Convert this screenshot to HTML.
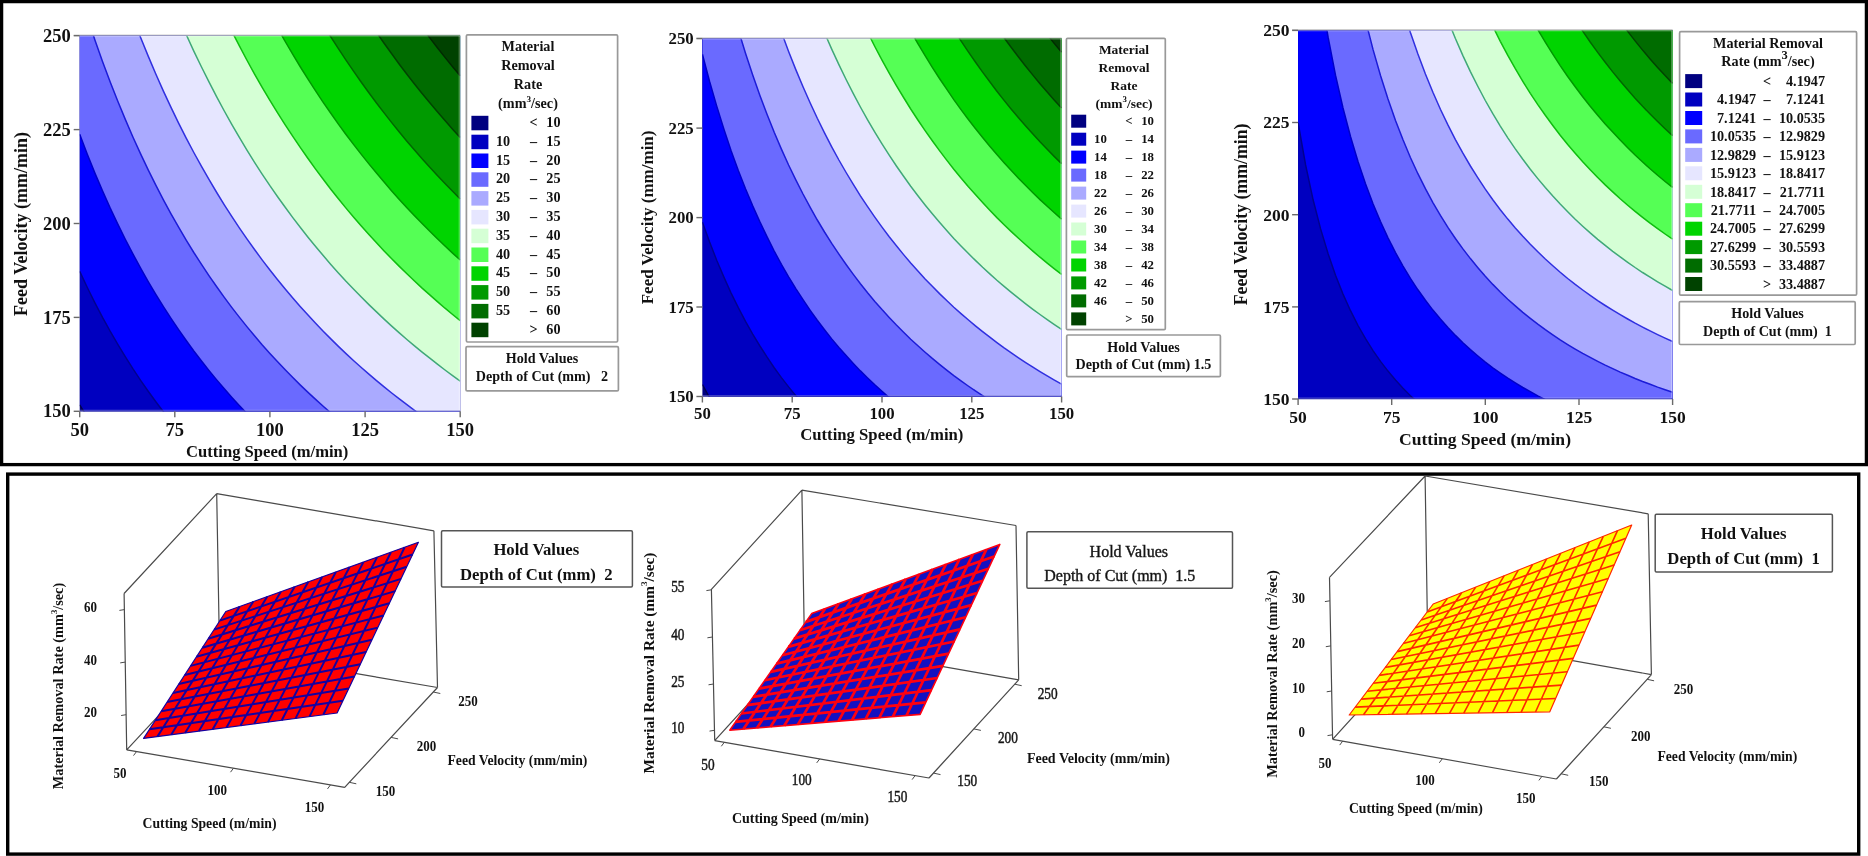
<!DOCTYPE html>
<html lang="en">
<head>
<meta charset="utf-8">
<title>Material Removal Rate - contour and surface plots</title>
<style>
html,body{margin:0;padding:0;background:#fff;}
body{width:1868px;height:856px;overflow:hidden;}
svg{display:block;}
svg text{font-family:"Liberation Serif", "DejaVu Serif", serif;fill:#111;}
</style>
</head>
<body>
<svg width="1868" height="856" viewBox="0 0 1868 856">
<defs>
<filter id="soft" x="0" y="0" width="100%" height="100%" filterUnits="userSpaceOnUse" color-interpolation-filters="sRGB"><feGaussianBlur stdDeviation="0.45"/></filter>
<clipPath id="cp1"><rect x="79.7" y="35.7" width="380.5" height="375.6"/></clipPath>
<clipPath id="cp2"><rect x="702.4" y="38.6" width="359.2" height="357.9"/></clipPath>
<clipPath id="cp3"><rect x="1298.1" y="30.4" width="374.5" height="368.6"/></clipPath>
</defs>
<rect x="1.6" y="1.6" width="1864.8" height="463" fill="#fff" stroke="#000" stroke-width="3.3"/>
<rect x="7.7" y="474.1" width="1851" height="380" fill="#fff" stroke="#000" stroke-width="3.4"/>
<g filter="url(#soft)">
<rect x="79.7" y="35.7" width="380.5" height="375.6" fill="#000080"/>
<g clip-path="url(#cp1)">
<path d="M79.7 404.9 L87.3 417.5 L94.9 429.4 L102.5 440.8 L110.1 451.7 L117.8 462 L125.4 471.9 L133 481.3 L140.6 490.3 L148.2 499 L155.8 507.2 L163.4 515.1 L171 522.7 L178.6 530 L186.2 537 L193.8 543.8 L201.5 550.2 L209.1 556.5 L216.7 562.5 L224.3 568.3 L231.9 573.8 L239.5 579.2 L247.1 584.4 L254.7 589.4 L262.3 594.2 L269.9 598.9 L277.6 603.4 L285.2 607.8 L292.8 612 L300.4 616.1 L308 620 L315.6 623.9 L323.2 627.6 L330.8 631.2 L338.4 634.6 L346 638 L353.7 641.3 L361.3 644.5 L368.9 647.5 L376.5 650.5 L384.1 653.4 L391.7 656.2 L399.3 659 L406.9 661.6 L414.5 664.2 L422.1 666.7 L429.8 669.1 L437.4 671.5 L445 673.8 L452.6 676 L460.2 678.2 L460.2 -364.3 L79.7 -364.3 Z" fill="#0000c0"/>
<path d="M79.7 404.9 L87.3 417.5 L94.9 429.4 L102.5 440.8 L110.1 451.7 L117.8 462 L125.4 471.9 L133 481.3 L140.6 490.3 L148.2 499 L155.8 507.2 L163.4 515.1 L171 522.7 L178.6 530 L186.2 537 L193.8 543.8 L201.5 550.2 L209.1 556.5 L216.7 562.5 L224.3 568.3 L231.9 573.8 L239.5 579.2 L247.1 584.4 L254.7 589.4 L262.3 594.2 L269.9 598.9 L277.6 603.4 L285.2 607.8 L292.8 612 L300.4 616.1 L308 620 L315.6 623.9 L323.2 627.6 L330.8 631.2 L338.4 634.6 L346 638 L353.7 641.3 L361.3 644.5 L368.9 647.5 L376.5 650.5 L384.1 653.4 L391.7 656.2 L399.3 659 L406.9 661.6 L414.5 664.2 L422.1 666.7 L429.8 669.1 L437.4 671.5 L445 673.8 L452.6 676 L460.2 678.2" fill="none" stroke="#000050" stroke-width="1.5"/>
<path d="M79.7 271.4 L87.3 287.5 L94.9 302.8 L102.5 317.4 L110.1 331.2 L117.8 344.3 L125.4 356.9 L133 368.9 L140.6 380.3 L148.2 391.2 L155.8 401.7 L163.4 411.8 L171 421.4 L178.6 430.6 L186.2 439.5 L193.8 448 L201.5 456.2 L209.1 464.1 L216.7 471.7 L224.3 479.1 L231.9 486.1 L239.5 492.9 L247.1 499.5 L254.7 505.9 L262.3 512 L269.9 517.9 L277.6 523.7 L285.2 529.2 L292.8 534.6 L300.4 539.8 L308 544.8 L315.6 549.7 L323.2 554.4 L330.8 559 L338.4 563.4 L346 567.7 L353.7 571.9 L361.3 576 L368.9 579.9 L376.5 583.7 L384.1 587.4 L391.7 591.1 L399.3 594.6 L406.9 598 L414.5 601.3 L422.1 604.5 L429.8 607.6 L437.4 610.7 L445 613.7 L452.6 616.6 L460.2 619.4 L460.2 -364.3 L79.7 -364.3 Z" fill="#0000ff"/>
<path d="M79.7 271.4 L87.3 287.5 L94.9 302.8 L102.5 317.4 L110.1 331.2 L117.8 344.3 L125.4 356.9 L133 368.9 L140.6 380.3 L148.2 391.2 L155.8 401.7 L163.4 411.8 L171 421.4 L178.6 430.6 L186.2 439.5 L193.8 448 L201.5 456.2 L209.1 464.1 L216.7 471.7 L224.3 479.1 L231.9 486.1 L239.5 492.9 L247.1 499.5 L254.7 505.9 L262.3 512 L269.9 517.9 L277.6 523.7 L285.2 529.2 L292.8 534.6 L300.4 539.8 L308 544.8 L315.6 549.7 L323.2 554.4 L330.8 559 L338.4 563.4 L346 567.7 L353.7 571.9 L361.3 576 L368.9 579.9 L376.5 583.7 L384.1 587.4 L391.7 591.1 L399.3 594.6 L406.9 598 L414.5 601.3 L422.1 604.5 L429.8 607.6 L437.4 610.7 L445 613.7 L452.6 616.6 L460.2 619.4" fill="none" stroke="#000090" stroke-width="1.5"/>
<path d="M79.7 134.3 L87.3 154.2 L94.9 173.1 L102.5 190.9 L110.1 207.9 L117.8 224.1 L125.4 239.5 L133 254.2 L140.6 268.2 L148.2 281.6 L155.8 294.4 L163.4 306.7 L171 318.4 L178.6 329.7 L186.2 340.5 L193.8 351 L201.5 361 L209.1 370.6 L216.7 379.9 L224.3 388.8 L231.9 397.4 L239.5 405.7 L247.1 413.7 L254.7 421.4 L262.3 428.9 L269.9 436.1 L277.6 443.1 L285.2 449.9 L292.8 456.4 L300.4 462.8 L308 468.9 L315.6 474.9 L323.2 480.6 L330.8 486.2 L338.4 491.6 L346 496.9 L353.7 502 L361.3 507 L368.9 511.8 L376.5 516.5 L384.1 521 L391.7 525.5 L399.3 529.8 L406.9 533.9 L414.5 538 L422.1 542 L429.8 545.8 L437.4 549.6 L445 553.2 L452.6 556.8 L460.2 560.3 L460.2 -364.3 L79.7 -364.3 Z" fill="#6a6aff"/>
<path d="M79.7 134.3 L87.3 154.2 L94.9 173.1 L102.5 190.9 L110.1 207.9 L117.8 224.1 L125.4 239.5 L133 254.2 L140.6 268.2 L148.2 281.6 L155.8 294.4 L163.4 306.7 L171 318.4 L178.6 329.7 L186.2 340.5 L193.8 351 L201.5 361 L209.1 370.6 L216.7 379.9 L224.3 388.8 L231.9 397.4 L239.5 405.7 L247.1 413.7 L254.7 421.4 L262.3 428.9 L269.9 436.1 L277.6 443.1 L285.2 449.9 L292.8 456.4 L300.4 462.8 L308 468.9 L315.6 474.9 L323.2 480.6 L330.8 486.2 L338.4 491.6 L346 496.9 L353.7 502 L361.3 507 L368.9 511.8 L376.5 516.5 L384.1 521 L391.7 525.5 L399.3 529.8 L406.9 533.9 L414.5 538 L422.1 542 L429.8 545.8 L437.4 549.6 L445 553.2 L452.6 556.8 L460.2 560.3" fill="none" stroke="#0000c8" stroke-width="1.5"/>
<path d="M79.7 -6.9 L87.3 17.1 L94.9 39.9 L102.5 61.4 L110.1 81.8 L117.8 101.2 L125.4 119.6 L133 137.2 L140.6 153.9 L148.2 169.9 L155.8 185.2 L163.4 199.8 L171 213.8 L178.6 227.2 L186.2 240.1 L193.8 252.5 L201.5 264.4 L209.1 275.8 L216.7 286.8 L224.3 297.4 L231.9 307.6 L239.5 317.4 L247.1 326.9 L254.7 336.1 L262.3 345 L269.9 353.5 L277.6 361.8 L285.2 369.8 L292.8 377.6 L300.4 385.1 L308 392.4 L315.6 399.4 L323.2 406.2 L330.8 412.9 L338.4 419.3 L346 425.5 L353.7 431.6 L361.3 437.5 L368.9 443.2 L376.5 448.8 L384.1 454.2 L391.7 459.4 L399.3 464.5 L406.9 469.5 L414.5 474.4 L422.1 479.1 L429.8 483.7 L437.4 488.1 L445 492.5 L452.6 496.7 L460.2 500.9 L460.2 -364.3 L79.7 -364.3 Z" fill="#aaaaff"/>
<path d="M79.7 -6.9 L87.3 17.1 L94.9 39.9 L102.5 61.4 L110.1 81.8 L117.8 101.2 L125.4 119.6 L133 137.2 L140.6 153.9 L148.2 169.9 L155.8 185.2 L163.4 199.8 L171 213.8 L178.6 227.2 L186.2 240.1 L193.8 252.5 L201.5 264.4 L209.1 275.8 L216.7 286.8 L224.3 297.4 L231.9 307.6 L239.5 317.4 L247.1 326.9 L254.7 336.1 L262.3 345 L269.9 353.5 L277.6 361.8 L285.2 369.8 L292.8 377.6 L300.4 385.1 L308 392.4 L315.6 399.4 L323.2 406.2 L330.8 412.9 L338.4 419.3 L346 425.5 L353.7 431.6 L361.3 437.5 L368.9 443.2 L376.5 448.8 L384.1 454.2 L391.7 459.4 L399.3 464.5 L406.9 469.5 L414.5 474.4 L422.1 479.1 L429.8 483.7 L437.4 488.1 L445 492.5 L452.6 496.7 L460.2 500.9" fill="none" stroke="#1c1cd8" stroke-width="1.5"/>
<path d="M79.7 -152.5 L87.3 -123.9 L94.9 -97 L102.5 -71.5 L110.1 -47.4 L117.8 -24.6 L125.4 -2.9 L133 17.7 L140.6 37.4 L148.2 56.1 L155.8 74 L163.4 91.1 L171 107.4 L178.6 123.1 L186.2 138.1 L193.8 152.5 L201.5 166.4 L209.1 179.7 L216.7 192.5 L224.3 204.8 L231.9 216.7 L239.5 228.1 L247.1 239.2 L254.7 249.8 L262.3 260.1 L269.9 270 L277.6 279.7 L285.2 289 L292.8 298 L300.4 306.7 L308 315.1 L315.6 323.3 L323.2 331.2 L330.8 338.9 L338.4 346.4 L346 353.6 L353.7 360.7 L361.3 367.5 L368.9 374.1 L376.5 380.6 L384.1 386.9 L391.7 393 L399.3 398.9 L406.9 404.7 L414.5 410.3 L422.1 415.8 L429.8 421.1 L437.4 426.3 L445 431.4 L452.6 436.3 L460.2 441.1 L460.2 -364.3 L79.7 -364.3 Z" fill="#e6e6ff"/>
<path d="M79.7 -152.5 L87.3 -123.9 L94.9 -97 L102.5 -71.5 L110.1 -47.4 L117.8 -24.6 L125.4 -2.9 L133 17.7 L140.6 37.4 L148.2 56.1 L155.8 74 L163.4 91.1 L171 107.4 L178.6 123.1 L186.2 138.1 L193.8 152.5 L201.5 166.4 L209.1 179.7 L216.7 192.5 L224.3 204.8 L231.9 216.7 L239.5 228.1 L247.1 239.2 L254.7 249.8 L262.3 260.1 L269.9 270 L277.6 279.7 L285.2 289 L292.8 298 L300.4 306.7 L308 315.1 L315.6 323.3 L323.2 331.2 L330.8 338.9 L338.4 346.4 L346 353.6 L353.7 360.7 L361.3 367.5 L368.9 374.1 L376.5 380.6 L384.1 386.9 L391.7 393 L399.3 398.9 L406.9 404.7 L414.5 410.3 L422.1 415.8 L429.8 421.1 L437.4 426.3 L445 431.4 L452.6 436.3 L460.2 441.1" fill="none" stroke="#3030e0" stroke-width="1.5"/>
<path d="M79.7 -303 L87.3 -269.4 L94.9 -237.8 L102.5 -208.1 L110.1 -180 L117.8 -153.5 L125.4 -128.3 L133 -104.4 L140.6 -81.6 L148.2 -60 L155.8 -39.3 L163.4 -19.6 L171 -0.8 L178.6 17.2 L186.2 34.5 L193.8 51.1 L201.5 67 L209.1 82.2 L216.7 96.9 L224.3 111 L231.9 124.6 L239.5 137.7 L247.1 150.4 L254.7 162.6 L262.3 174.3 L269.9 185.7 L277.6 196.7 L285.2 207.3 L292.8 217.6 L300.4 227.5 L308 237.2 L315.6 246.5 L323.2 255.6 L330.8 264.4 L338.4 272.9 L346 281.2 L353.7 289.2 L361.3 297 L368.9 304.6 L376.5 311.9 L384.1 319.1 L391.7 326.1 L399.3 332.9 L406.9 339.5 L414.5 345.9 L422.1 352.1 L429.8 358.2 L437.4 364.2 L445 370 L452.6 375.6 L460.2 381.1 L460.2 -364.3 L79.7 -364.3 Z" fill="#d5ffd5"/>
<path d="M79.7 -303 L87.3 -269.4 L94.9 -237.8 L102.5 -208.1 L110.1 -180 L117.8 -153.5 L125.4 -128.3 L133 -104.4 L140.6 -81.6 L148.2 -60 L155.8 -39.3 L163.4 -19.6 L171 -0.8 L178.6 17.2 L186.2 34.5 L193.8 51.1 L201.5 67 L209.1 82.2 L216.7 96.9 L224.3 111 L231.9 124.6 L239.5 137.7 L247.1 150.4 L254.7 162.6 L262.3 174.3 L269.9 185.7 L277.6 196.7 L285.2 207.3 L292.8 217.6 L300.4 227.5 L308 237.2 L315.6 246.5 L323.2 255.6 L330.8 264.4 L338.4 272.9 L346 281.2 L353.7 289.2 L361.3 297 L368.9 304.6 L376.5 311.9 L384.1 319.1 L391.7 326.1 L399.3 332.9 L406.9 339.5 L414.5 345.9 L422.1 352.1 L429.8 358.2 L437.4 364.2 L445 370 L452.6 375.6 L460.2 381.1" fill="none" stroke="#40a878" stroke-width="1.5"/>
<path d="M79.7 -339.9 L87.3 -339.9 L94.9 -339.9 L102.5 -339.9 L110.1 -316.3 L117.8 -285.7 L125.4 -256.7 L133 -229.3 L140.6 -203.3 L148.2 -178.5 L155.8 -154.9 L163.4 -132.4 L171 -111 L178.6 -90.5 L186.2 -70.8 L193.8 -52 L201.5 -34 L209.1 -16.7 L216.7 -0 L224.3 16 L231.9 31.4 L239.5 46.2 L247.1 60.5 L254.7 74.3 L262.3 87.6 L269.9 100.4 L277.6 112.8 L285.2 124.8 L292.8 136.4 L300.4 147.7 L308 158.5 L315.6 169.1 L323.2 179.3 L330.8 189.2 L338.4 198.8 L346 208.1 L353.7 217.2 L361.3 226 L368.9 234.5 L376.5 242.8 L384.1 250.9 L391.7 258.7 L399.3 266.4 L406.9 273.8 L414.5 281 L422.1 288.1 L429.8 294.9 L437.4 301.6 L445 308.2 L452.6 314.5 L460.2 320.7 L460.2 -364.3 L79.7 -364.3 Z" fill="#55ff55"/>
<path d="M79.7 -339.9 L87.3 -339.9 L94.9 -339.9 L102.5 -339.9 L110.1 -316.3 L117.8 -285.7 L125.4 -256.7 L133 -229.3 L140.6 -203.3 L148.2 -178.5 L155.8 -154.9 L163.4 -132.4 L171 -111 L178.6 -90.5 L186.2 -70.8 L193.8 -52 L201.5 -34 L209.1 -16.7 L216.7 -0 L224.3 16 L231.9 31.4 L239.5 46.2 L247.1 60.5 L254.7 74.3 L262.3 87.6 L269.9 100.4 L277.6 112.8 L285.2 124.8 L292.8 136.4 L300.4 147.7 L308 158.5 L315.6 169.1 L323.2 179.3 L330.8 189.2 L338.4 198.8 L346 208.1 L353.7 217.2 L361.3 226 L368.9 234.5 L376.5 242.8 L384.1 250.9 L391.7 258.7 L399.3 266.4 L406.9 273.8 L414.5 281 L422.1 288.1 L429.8 294.9 L437.4 301.6 L445 308.2 L452.6 314.5 L460.2 320.7" fill="none" stroke="#10bc10" stroke-width="1.5"/>
<path d="M79.7 -339.9 L87.3 -339.9 L94.9 -339.9 L102.5 -339.9 L110.1 -339.9 L117.8 -339.9 L125.4 -339.9 L133 -339.9 L140.6 -327.7 L148.2 -299.6 L155.8 -272.9 L163.4 -247.5 L171 -223.2 L178.6 -200.1 L186.2 -177.9 L193.8 -156.8 L201.5 -136.5 L209.1 -117 L216.7 -98.3 L224.3 -80.4 L231.9 -63.1 L239.5 -46.5 L247.1 -30.5 L254.7 -15 L262.3 -0.2 L269.9 14.2 L277.6 28.1 L285.2 41.5 L292.8 54.4 L300.4 67 L308 79.1 L315.6 90.9 L323.2 102.3 L330.8 113.3 L338.4 124.1 L346 134.5 L353.7 144.6 L361.3 154.4 L368.9 163.9 L376.5 173.1 L384.1 182.1 L391.7 190.9 L399.3 199.4 L406.9 207.7 L414.5 215.8 L422.1 223.6 L429.8 231.3 L437.4 238.7 L445 246 L452.6 253.1 L460.2 260 L460.2 -364.3 L79.7 -364.3 Z" fill="#00d400"/>
<path d="M79.7 -339.9 L87.3 -339.9 L94.9 -339.9 L102.5 -339.9 L110.1 -339.9 L117.8 -339.9 L125.4 -339.9 L133 -339.9 L140.6 -327.7 L148.2 -299.6 L155.8 -272.9 L163.4 -247.5 L171 -223.2 L178.6 -200.1 L186.2 -177.9 L193.8 -156.8 L201.5 -136.5 L209.1 -117 L216.7 -98.3 L224.3 -80.4 L231.9 -63.1 L239.5 -46.5 L247.1 -30.5 L254.7 -15 L262.3 -0.2 L269.9 14.2 L277.6 28.1 L285.2 41.5 L292.8 54.4 L300.4 67 L308 79.1 L315.6 90.9 L323.2 102.3 L330.8 113.3 L338.4 124.1 L346 134.5 L353.7 144.6 L361.3 154.4 L368.9 163.9 L376.5 173.1 L384.1 182.1 L391.7 190.9 L399.3 199.4 L406.9 207.7 L414.5 215.8 L422.1 223.6 L429.8 231.3 L437.4 238.7 L445 246 L452.6 253.1 L460.2 260" fill="none" stroke="#009800" stroke-width="1.5"/>
<path d="M79.7 -339.9 L87.3 -339.9 L94.9 -339.9 L102.5 -339.9 L110.1 -339.9 L117.8 -339.9 L125.4 -339.9 L133 -339.9 L140.6 -339.9 L148.2 -339.9 L155.8 -339.9 L163.4 -339.9 L171 -337.6 L178.6 -311.7 L186.2 -286.9 L193.8 -263.3 L201.5 -240.6 L209.1 -218.9 L216.7 -198.1 L224.3 -178.1 L231.9 -158.9 L239.5 -140.4 L247.1 -122.6 L254.7 -105.5 L262.3 -88.9 L269.9 -73 L277.6 -57.6 L285.2 -42.7 L292.8 -28.4 L300.4 -14.5 L308 -1 L315.6 12 L323.2 24.6 L330.8 36.9 L338.4 48.7 L346 60.2 L353.7 71.4 L361.3 82.2 L368.9 92.8 L376.5 103 L384.1 112.9 L391.7 122.6 L399.3 132 L406.9 141.2 L414.5 150.1 L422.1 158.8 L429.8 167.2 L437.4 175.5 L445 183.5 L452.6 191.3 L460.2 199 L460.2 -364.3 L79.7 -364.3 Z" fill="#009a00"/>
<path d="M79.7 -339.9 L87.3 -339.9 L94.9 -339.9 L102.5 -339.9 L110.1 -339.9 L117.8 -339.9 L125.4 -339.9 L133 -339.9 L140.6 -339.9 L148.2 -339.9 L155.8 -339.9 L163.4 -339.9 L171 -337.6 L178.6 -311.7 L186.2 -286.9 L193.8 -263.3 L201.5 -240.6 L209.1 -218.9 L216.7 -198.1 L224.3 -178.1 L231.9 -158.9 L239.5 -140.4 L247.1 -122.6 L254.7 -105.5 L262.3 -88.9 L269.9 -73 L277.6 -57.6 L285.2 -42.7 L292.8 -28.4 L300.4 -14.5 L308 -1 L315.6 12 L323.2 24.6 L330.8 36.9 L338.4 48.7 L346 60.2 L353.7 71.4 L361.3 82.2 L368.9 92.8 L376.5 103 L384.1 112.9 L391.7 122.6 L399.3 132 L406.9 141.2 L414.5 150.1 L422.1 158.8 L429.8 167.2 L437.4 175.5 L445 183.5 L452.6 191.3 L460.2 199" fill="none" stroke="#006800" stroke-width="1.5"/>
<path d="M79.7 -339.9 L87.3 -339.9 L94.9 -339.9 L102.5 -339.9 L110.1 -339.9 L117.8 -339.9 L125.4 -339.9 L133 -339.9 L140.6 -339.9 L148.2 -339.9 L155.8 -339.9 L163.4 -339.9 L171 -339.9 L178.6 -339.9 L186.2 -339.9 L193.8 -339.9 L201.5 -339.9 L209.1 -322.4 L216.7 -299.4 L224.3 -277.2 L231.9 -256 L239.5 -235.6 L247.1 -215.9 L254.7 -197 L262.3 -178.8 L269.9 -161.2 L277.6 -144.2 L285.2 -127.9 L292.8 -112 L300.4 -96.7 L308 -81.9 L315.6 -67.6 L323.2 -53.8 L330.8 -40.3 L338.4 -27.3 L346 -14.6 L353.7 -2.4 L361.3 9.5 L368.9 21.1 L376.5 32.3 L384.1 43.2 L391.7 53.8 L399.3 64.2 L406.9 74.2 L414.5 84 L422.1 93.5 L429.8 102.8 L437.4 111.8 L445 120.6 L452.6 129.2 L460.2 137.6 L460.2 -364.3 L79.7 -364.3 Z" fill="#006c00"/>
<path d="M79.7 -339.9 L87.3 -339.9 L94.9 -339.9 L102.5 -339.9 L110.1 -339.9 L117.8 -339.9 L125.4 -339.9 L133 -339.9 L140.6 -339.9 L148.2 -339.9 L155.8 -339.9 L163.4 -339.9 L171 -339.9 L178.6 -339.9 L186.2 -339.9 L193.8 -339.9 L201.5 -339.9 L209.1 -322.4 L216.7 -299.4 L224.3 -277.2 L231.9 -256 L239.5 -235.6 L247.1 -215.9 L254.7 -197 L262.3 -178.8 L269.9 -161.2 L277.6 -144.2 L285.2 -127.9 L292.8 -112 L300.4 -96.7 L308 -81.9 L315.6 -67.6 L323.2 -53.8 L330.8 -40.3 L338.4 -27.3 L346 -14.6 L353.7 -2.4 L361.3 9.5 L368.9 21.1 L376.5 32.3 L384.1 43.2 L391.7 53.8 L399.3 64.2 L406.9 74.2 L414.5 84 L422.1 93.5 L429.8 102.8 L437.4 111.8 L445 120.6 L452.6 129.2 L460.2 137.6" fill="none" stroke="#004400" stroke-width="1.5"/>
<path d="M79.7 -339.9 L87.3 -339.9 L94.9 -339.9 L102.5 -339.9 L110.1 -339.9 L117.8 -339.9 L125.4 -339.9 L133 -339.9 L140.6 -339.9 L148.2 -339.9 L155.8 -339.9 L163.4 -339.9 L171 -339.9 L178.6 -339.9 L186.2 -339.9 L193.8 -339.9 L201.5 -339.9 L209.1 -339.9 L216.7 -339.9 L224.3 -339.9 L231.9 -339.9 L239.5 -332.1 L247.1 -310.5 L254.7 -289.7 L262.3 -269.7 L269.9 -250.4 L277.6 -231.9 L285.2 -213.9 L292.8 -196.6 L300.4 -179.9 L308 -163.7 L315.6 -148 L323.2 -132.9 L330.8 -118.2 L338.4 -103.9 L346 -90.1 L353.7 -76.8 L361.3 -63.8 L368.9 -51.2 L376.5 -38.9 L384.1 -27 L391.7 -15.4 L399.3 -4.2 L406.9 6.8 L414.5 17.4 L422.1 27.8 L429.8 37.9 L437.4 47.8 L445 57.4 L452.6 66.7 L460.2 75.8 L460.2 -364.3 L79.7 -364.3 Z" fill="#004200"/>
<path d="M79.7 -339.9 L87.3 -339.9 L94.9 -339.9 L102.5 -339.9 L110.1 -339.9 L117.8 -339.9 L125.4 -339.9 L133 -339.9 L140.6 -339.9 L148.2 -339.9 L155.8 -339.9 L163.4 -339.9 L171 -339.9 L178.6 -339.9 L186.2 -339.9 L193.8 -339.9 L201.5 -339.9 L209.1 -339.9 L216.7 -339.9 L224.3 -339.9 L231.9 -339.9 L239.5 -332.1 L247.1 -310.5 L254.7 -289.7 L262.3 -269.7 L269.9 -250.4 L277.6 -231.9 L285.2 -213.9 L292.8 -196.6 L300.4 -179.9 L308 -163.7 L315.6 -148 L323.2 -132.9 L330.8 -118.2 L338.4 -103.9 L346 -90.1 L353.7 -76.8 L361.3 -63.8 L368.9 -51.2 L376.5 -38.9 L384.1 -27 L391.7 -15.4 L399.3 -4.2 L406.9 6.8 L414.5 17.4 L422.1 27.8 L429.8 37.9 L437.4 47.8 L445 57.4 L452.6 66.7 L460.2 75.8" fill="none" stroke="#002a00" stroke-width="1.5"/>
</g>
<path d="M459.4 35.7 L459.4 410.5 L79.7 410.5" fill="none" stroke="#fff" stroke-width="1.6" opacity="0.28"/>
<path d="M79.7 36.2 L460.2 36.2" fill="none" stroke="#fff" stroke-width="1" opacity="0.3"/>
<path d="M73.7 35.2 L460.2 35.2" fill="none" stroke="#999" stroke-width="1" opacity="0.8"/>
<path d="M79.7 411.1 L460.2 411.1" fill="none" stroke="#2828a8" stroke-width="1.4" opacity="0.55"/>
<line x1="79.7" y1="411.3" x2="79.7" y2="417.3" stroke="#6a6a6a" stroke-width="1.4"/>
<text x="79.7" y="435.6" font-size="18.5" text-anchor="middle" font-weight="bold">50</text>
<line x1="174.8" y1="411.3" x2="174.8" y2="417.3" stroke="#6a6a6a" stroke-width="1.4"/>
<text x="174.8" y="435.6" font-size="18.5" text-anchor="middle" font-weight="bold">75</text>
<line x1="269.9" y1="411.3" x2="269.9" y2="417.3" stroke="#6a6a6a" stroke-width="1.4"/>
<text x="269.9" y="435.6" font-size="18.5" text-anchor="middle" font-weight="bold">100</text>
<line x1="365.1" y1="411.3" x2="365.1" y2="417.3" stroke="#6a6a6a" stroke-width="1.4"/>
<text x="365.1" y="435.6" font-size="18.5" text-anchor="middle" font-weight="bold">125</text>
<line x1="460.2" y1="411.3" x2="460.2" y2="417.3" stroke="#6a6a6a" stroke-width="1.4"/>
<text x="460.2" y="435.6" font-size="18.5" text-anchor="middle" font-weight="bold">150</text>
<line x1="73.7" y1="411.3" x2="79.7" y2="411.3" stroke="#6a6a6a" stroke-width="1.4"/>
<text x="70.7" y="417.4" font-size="18.5" text-anchor="end" font-weight="bold">150</text>
<line x1="73.7" y1="317.4" x2="79.7" y2="317.4" stroke="#6a6a6a" stroke-width="1.4"/>
<text x="70.7" y="323.5" font-size="18.5" text-anchor="end" font-weight="bold">175</text>
<line x1="73.7" y1="223.5" x2="79.7" y2="223.5" stroke="#6a6a6a" stroke-width="1.4"/>
<text x="70.7" y="229.6" font-size="18.5" text-anchor="end" font-weight="bold">200</text>
<line x1="73.7" y1="129.6" x2="79.7" y2="129.6" stroke="#6a6a6a" stroke-width="1.4"/>
<text x="70.7" y="135.7" font-size="18.5" text-anchor="end" font-weight="bold">225</text>
<line x1="73.7" y1="35.7" x2="79.7" y2="35.7" stroke="#6a6a6a" stroke-width="1.4"/>
<text x="70.7" y="41.8" font-size="18.5" text-anchor="end" font-weight="bold">250</text>
<text x="267.2" y="456.5" font-size="16.6" text-anchor="middle" font-weight="bold">Cutting Speed (m/min)</text>
<text x="27" y="223.9" font-size="18" text-anchor="middle" font-weight="bold" transform="rotate(-90 27 223.9)">Feed Velocity (mm/min)</text>
<rect x="466.4" y="34.8" width="151.2" height="307.2" rx="1.2" fill="#fff" stroke="#999" stroke-width="1.7"/>
<text x="528" y="50.8" font-size="14.2" text-anchor="middle" font-weight="bold">Material</text>
<text x="528" y="69.7" font-size="14.2" text-anchor="middle" font-weight="bold">Removal</text>
<text x="528" y="88.9" font-size="14.2" text-anchor="middle" font-weight="bold">Rate</text>
<text x="528" y="107.7" font-size="14.2" text-anchor="middle" font-weight="bold">(mm<tspan font-size="9.2" dy="-5.4">3</tspan><tspan dy="5.4">/sec)</tspan></text>
<rect x="471.4" y="115.8" width="17" height="14.5" fill="#000080"/>
<text x="533.5" y="127" font-size="14.2" text-anchor="middle" font-weight="bold">&lt;</text>
<text x="560.5" y="127" font-size="14.2" text-anchor="end" font-weight="bold">10</text>
<rect x="471.4" y="134.7" width="17" height="14.5" fill="#0000c0"/>
<text x="496" y="145.8" font-size="14.2" text-anchor="start" font-weight="bold">10</text>
<text x="533.5" y="145.8" font-size="14.2" text-anchor="middle" font-weight="bold">–</text>
<text x="560.5" y="145.8" font-size="14.2" text-anchor="end" font-weight="bold">15</text>
<rect x="471.4" y="153.5" width="17" height="14.5" fill="#0000ff"/>
<text x="496" y="164.6" font-size="14.2" text-anchor="start" font-weight="bold">15</text>
<text x="533.5" y="164.6" font-size="14.2" text-anchor="middle" font-weight="bold">–</text>
<text x="560.5" y="164.6" font-size="14.2" text-anchor="end" font-weight="bold">20</text>
<rect x="471.4" y="172.3" width="17" height="14.5" fill="#6a6aff"/>
<text x="496" y="183.4" font-size="14.2" text-anchor="start" font-weight="bold">20</text>
<text x="533.5" y="183.4" font-size="14.2" text-anchor="middle" font-weight="bold">–</text>
<text x="560.5" y="183.4" font-size="14.2" text-anchor="end" font-weight="bold">25</text>
<rect x="471.4" y="191.1" width="17" height="14.5" fill="#aaaaff"/>
<text x="496" y="202.2" font-size="14.2" text-anchor="start" font-weight="bold">25</text>
<text x="533.5" y="202.2" font-size="14.2" text-anchor="middle" font-weight="bold">–</text>
<text x="560.5" y="202.2" font-size="14.2" text-anchor="end" font-weight="bold">30</text>
<rect x="471.4" y="209.9" width="17" height="14.5" fill="#e6e6ff"/>
<text x="496" y="221" font-size="14.2" text-anchor="start" font-weight="bold">30</text>
<text x="533.5" y="221" font-size="14.2" text-anchor="middle" font-weight="bold">–</text>
<text x="560.5" y="221" font-size="14.2" text-anchor="end" font-weight="bold">35</text>
<rect x="471.4" y="228.7" width="17" height="14.5" fill="#d5ffd5"/>
<text x="496" y="239.8" font-size="14.2" text-anchor="start" font-weight="bold">35</text>
<text x="533.5" y="239.8" font-size="14.2" text-anchor="middle" font-weight="bold">–</text>
<text x="560.5" y="239.8" font-size="14.2" text-anchor="end" font-weight="bold">40</text>
<rect x="471.4" y="247.5" width="17" height="14.5" fill="#55ff55"/>
<text x="496" y="258.6" font-size="14.2" text-anchor="start" font-weight="bold">40</text>
<text x="533.5" y="258.6" font-size="14.2" text-anchor="middle" font-weight="bold">–</text>
<text x="560.5" y="258.6" font-size="14.2" text-anchor="end" font-weight="bold">45</text>
<rect x="471.4" y="266.3" width="17" height="14.5" fill="#00d400"/>
<text x="496" y="277.4" font-size="14.2" text-anchor="start" font-weight="bold">45</text>
<text x="533.5" y="277.4" font-size="14.2" text-anchor="middle" font-weight="bold">–</text>
<text x="560.5" y="277.4" font-size="14.2" text-anchor="end" font-weight="bold">50</text>
<rect x="471.4" y="285.1" width="17" height="14.5" fill="#009a00"/>
<text x="496" y="296.2" font-size="14.2" text-anchor="start" font-weight="bold">50</text>
<text x="533.5" y="296.2" font-size="14.2" text-anchor="middle" font-weight="bold">–</text>
<text x="560.5" y="296.2" font-size="14.2" text-anchor="end" font-weight="bold">55</text>
<rect x="471.4" y="303.9" width="17" height="14.5" fill="#006c00"/>
<text x="496" y="315" font-size="14.2" text-anchor="start" font-weight="bold">55</text>
<text x="533.5" y="315" font-size="14.2" text-anchor="middle" font-weight="bold">–</text>
<text x="560.5" y="315" font-size="14.2" text-anchor="end" font-weight="bold">60</text>
<rect x="471.4" y="322.7" width="17" height="14.5" fill="#004200"/>
<text x="533.5" y="333.8" font-size="14.2" text-anchor="middle" font-weight="bold">&gt;</text>
<text x="560.5" y="333.8" font-size="14.2" text-anchor="end" font-weight="bold">60</text>
<rect x="466" y="346.7" width="152.4" height="44.2" rx="1.2" fill="#fff" stroke="#999" stroke-width="1.7"/>
<text x="542" y="362.5" font-size="14.1" text-anchor="middle" font-weight="bold">Hold Values</text>
<text x="542" y="381" font-size="14.1" text-anchor="middle" font-weight="bold" xml:space="preserve">Depth of Cut (mm)   2</text>
<rect x="702.4" y="38.6" width="359.2" height="357.9" fill="#000080"/>
<g clip-path="url(#cp2)">
<path d="M702.4 384.5 L709.6 397.8 L716.8 410.1 L724 421.5 L731.1 432.1 L738.3 442 L745.5 451.1 L752.7 459.7 L759.9 467.8 L767.1 475.3 L774.2 482.4 L781.4 489.1 L788.6 495.4 L795.8 501.4 L803 507 L810.2 512.3 L817.3 517.3 L824.5 522.1 L831.7 526.7 L838.9 531 L846.1 535.1 L853.3 539 L860.4 542.7 L867.6 546.3 L874.8 549.7 L882 552.9 L889.2 556 L896.4 558.9 L903.6 561.7 L910.7 564.4 L917.9 567 L925.1 569.5 L932.3 571.9 L939.5 574.1 L946.7 576.3 L953.8 578.4 L961 580.4 L968.2 582.3 L975.4 584.2 L982.6 585.9 L989.8 587.6 L996.9 589.3 L1004.1 590.8 L1011.3 592.3 L1018.5 593.8 L1025.7 595.2 L1032.9 596.5 L1040 597.8 L1047.2 599 L1054.4 600.2 L1061.6 601.4 L1061.6 -361.4 L702.4 -361.4 Z" fill="#0000c0"/>
<path d="M702.4 384.5 L709.6 397.8 L716.8 410.1 L724 421.5 L731.1 432.1 L738.3 442 L745.5 451.1 L752.7 459.7 L759.9 467.8 L767.1 475.3 L774.2 482.4 L781.4 489.1 L788.6 495.4 L795.8 501.4 L803 507 L810.2 512.3 L817.3 517.3 L824.5 522.1 L831.7 526.7 L838.9 531 L846.1 535.1 L853.3 539 L860.4 542.7 L867.6 546.3 L874.8 549.7 L882 552.9 L889.2 556 L896.4 558.9 L903.6 561.7 L910.7 564.4 L917.9 567 L925.1 569.5 L932.3 571.9 L939.5 574.1 L946.7 576.3 L953.8 578.4 L961 580.4 L968.2 582.3 L975.4 584.2 L982.6 585.9 L989.8 587.6 L996.9 589.3 L1004.1 590.8 L1011.3 592.3 L1018.5 593.8 L1025.7 595.2 L1032.9 596.5 L1040 597.8 L1047.2 599 L1054.4 600.2 L1061.6 601.4" fill="none" stroke="#000050" stroke-width="1.5"/>
<path d="M702.4 222.2 L709.6 242.1 L716.8 260.5 L724 277.4 L731.1 293.1 L738.3 307.7 L745.5 321.4 L752.7 334.1 L759.9 346 L767.1 357.2 L774.2 367.7 L781.4 377.6 L788.6 386.9 L795.8 395.7 L803 404.1 L810.2 411.9 L817.3 419.4 L824.5 426.5 L831.7 433.3 L838.9 439.7 L846.1 445.8 L853.3 451.6 L860.4 457.2 L867.6 462.5 L874.8 467.6 L882 472.4 L889.2 477.1 L896.4 481.5 L903.6 485.8 L910.7 489.9 L917.9 493.8 L925.1 497.5 L932.3 501.2 L939.5 504.6 L946.7 508 L953.8 511.2 L961 514.2 L968.2 517.2 L975.4 520.1 L982.6 522.8 L989.8 525.5 L996.9 528 L1004.1 530.5 L1011.3 532.9 L1018.5 535.2 L1025.7 537.4 L1032.9 539.5 L1040 541.6 L1047.2 543.6 L1054.4 545.5 L1061.6 547.4 L1061.6 -361.4 L702.4 -361.4 Z" fill="#0000ff"/>
<path d="M702.4 222.2 L709.6 242.1 L716.8 260.5 L724 277.4 L731.1 293.1 L738.3 307.7 L745.5 321.4 L752.7 334.1 L759.9 346 L767.1 357.2 L774.2 367.7 L781.4 377.6 L788.6 386.9 L795.8 395.7 L803 404.1 L810.2 411.9 L817.3 419.4 L824.5 426.5 L831.7 433.3 L838.9 439.7 L846.1 445.8 L853.3 451.6 L860.4 457.2 L867.6 462.5 L874.8 467.6 L882 472.4 L889.2 477.1 L896.4 481.5 L903.6 485.8 L910.7 489.9 L917.9 493.8 L925.1 497.5 L932.3 501.2 L939.5 504.6 L946.7 508 L953.8 511.2 L961 514.2 L968.2 517.2 L975.4 520.1 L982.6 522.8 L989.8 525.5 L996.9 528 L1004.1 530.5 L1011.3 532.9 L1018.5 535.2 L1025.7 537.4 L1032.9 539.5 L1040 541.6 L1047.2 543.6 L1054.4 545.5 L1061.6 547.4" fill="none" stroke="#000090" stroke-width="1.5"/>
<path d="M702.4 54.3 L709.6 81.5 L716.8 106.4 L724 129.4 L731.1 150.7 L738.3 170.4 L745.5 188.8 L752.7 205.9 L759.9 221.9 L767.1 236.9 L774.2 251 L781.4 264.3 L788.6 276.8 L795.8 288.6 L803 299.7 L810.2 310.3 L817.3 320.3 L824.5 329.8 L831.7 338.9 L838.9 347.5 L846.1 355.6 L853.3 363.4 L860.4 370.9 L867.6 378 L874.8 384.8 L882 391.3 L889.2 397.6 L896.4 403.5 L903.6 409.3 L910.7 414.8 L917.9 420.1 L925.1 425.1 L932.3 430 L939.5 434.7 L946.7 439.2 L953.8 443.6 L961 447.7 L968.2 451.8 L975.4 455.7 L982.6 459.4 L989.8 463 L996.9 466.5 L1004.1 469.9 L1011.3 473.2 L1018.5 476.3 L1025.7 479.4 L1032.9 482.3 L1040 485.2 L1047.2 487.9 L1054.4 490.6 L1061.6 493.2 L1061.6 -361.4 L702.4 -361.4 Z" fill="#6a6aff"/>
<path d="M702.4 54.3 L709.6 81.5 L716.8 106.4 L724 129.4 L731.1 150.7 L738.3 170.4 L745.5 188.8 L752.7 205.9 L759.9 221.9 L767.1 236.9 L774.2 251 L781.4 264.3 L788.6 276.8 L795.8 288.6 L803 299.7 L810.2 310.3 L817.3 320.3 L824.5 329.8 L831.7 338.9 L838.9 347.5 L846.1 355.6 L853.3 363.4 L860.4 370.9 L867.6 378 L874.8 384.8 L882 391.3 L889.2 397.6 L896.4 403.5 L903.6 409.3 L910.7 414.8 L917.9 420.1 L925.1 425.1 L932.3 430 L939.5 434.7 L946.7 439.2 L953.8 443.6 L961 447.7 L968.2 451.8 L975.4 455.7 L982.6 459.4 L989.8 463 L996.9 466.5 L1004.1 469.9 L1011.3 473.2 L1018.5 476.3 L1025.7 479.4 L1032.9 482.3 L1040 485.2 L1047.2 487.9 L1054.4 490.6 L1061.6 493.2" fill="none" stroke="#0000c8" stroke-width="1.5"/>
<path d="M702.4 -119.9 L709.6 -84.6 L716.8 -52.4 L724 -22.8 L731.1 4.5 L738.3 29.8 L745.5 53.2 L752.7 75 L759.9 95.4 L767.1 114.5 L774.2 132.3 L781.4 149.1 L788.6 165 L795.8 179.9 L803 194 L810.2 207.3 L817.3 220 L824.5 232 L831.7 243.4 L838.9 254.2 L846.1 264.5 L853.3 274.4 L860.4 283.8 L867.6 292.8 L874.8 301.4 L882 309.6 L889.2 317.4 L896.4 325 L903.6 332.2 L910.7 339.2 L917.9 345.8 L925.1 352.2 L932.3 358.4 L939.5 364.3 L946.7 370.1 L953.8 375.6 L961 380.9 L968.2 386 L975.4 390.9 L982.6 395.7 L989.8 400.3 L996.9 404.7 L1004.1 409 L1011.3 413.2 L1018.5 417.2 L1025.7 421.1 L1032.9 424.9 L1040 428.5 L1047.2 432 L1054.4 435.5 L1061.6 438.8 L1061.6 -361.4 L702.4 -361.4 Z" fill="#aaaaff"/>
<path d="M702.4 -119.9 L709.6 -84.6 L716.8 -52.4 L724 -22.8 L731.1 4.5 L738.3 29.8 L745.5 53.2 L752.7 75 L759.9 95.4 L767.1 114.5 L774.2 132.3 L781.4 149.1 L788.6 165 L795.8 179.9 L803 194 L810.2 207.3 L817.3 220 L824.5 232 L831.7 243.4 L838.9 254.2 L846.1 264.5 L853.3 274.4 L860.4 283.8 L867.6 292.8 L874.8 301.4 L882 309.6 L889.2 317.4 L896.4 325 L903.6 332.2 L910.7 339.2 L917.9 345.8 L925.1 352.2 L932.3 358.4 L939.5 364.3 L946.7 370.1 L953.8 375.6 L961 380.9 L968.2 386 L975.4 390.9 L982.6 395.7 L989.8 400.3 L996.9 404.7 L1004.1 409 L1011.3 413.2 L1018.5 417.2 L1025.7 421.1 L1032.9 424.9 L1040 428.5 L1047.2 432 L1054.4 435.5 L1061.6 438.8" fill="none" stroke="#1c1cd8" stroke-width="1.5"/>
<path d="M702.4 -301 L709.6 -256.7 L716.8 -216.4 L724 -179.5 L731.1 -145.7 L738.3 -114.5 L745.5 -85.6 L752.7 -58.7 L759.9 -33.7 L767.1 -10.3 L774.2 11.5 L781.4 32.1 L788.6 51.4 L795.8 69.6 L803 86.7 L810.2 103 L817.3 118.3 L824.5 132.9 L831.7 146.8 L838.9 160 L846.1 172.5 L853.3 184.4 L860.4 195.8 L867.6 206.7 L874.8 217.1 L882 227.1 L889.2 236.7 L896.4 245.8 L903.6 254.6 L910.7 263 L917.9 271.1 L925.1 278.9 L932.3 286.3 L939.5 293.6 L946.7 300.5 L953.8 307.2 L961 313.6 L968.2 319.8 L975.4 325.8 L982.6 331.6 L989.8 337.2 L996.9 342.6 L1004.1 347.9 L1011.3 352.9 L1018.5 357.8 L1025.7 362.6 L1032.9 367.2 L1040 371.6 L1047.2 375.9 L1054.4 380.1 L1061.6 384.2 L1061.6 -361.4 L702.4 -361.4 Z" fill="#e6e6ff"/>
<path d="M702.4 -301 L709.6 -256.7 L716.8 -216.4 L724 -179.5 L731.1 -145.7 L738.3 -114.5 L745.5 -85.6 L752.7 -58.7 L759.9 -33.7 L767.1 -10.3 L774.2 11.5 L781.4 32.1 L788.6 51.4 L795.8 69.6 L803 86.7 L810.2 103 L817.3 118.3 L824.5 132.9 L831.7 146.8 L838.9 160 L846.1 172.5 L853.3 184.4 L860.4 195.8 L867.6 206.7 L874.8 217.1 L882 227.1 L889.2 236.7 L896.4 245.8 L903.6 254.6 L910.7 263 L917.9 271.1 L925.1 278.9 L932.3 286.3 L939.5 293.6 L946.7 300.5 L953.8 307.2 L961 313.6 L968.2 319.8 L975.4 325.8 L982.6 331.6 L989.8 337.2 L996.9 342.6 L1004.1 347.9 L1011.3 352.9 L1018.5 357.8 L1025.7 362.6 L1032.9 367.2 L1040 371.6 L1047.2 375.9 L1054.4 380.1 L1061.6 384.2" fill="none" stroke="#3030e0" stroke-width="1.5"/>
<path d="M702.4 -319.3 L709.6 -319.3 L716.8 -319.3 L724 -319.3 L731.1 -300.3 L738.3 -262.6 L745.5 -227.8 L752.7 -195.5 L759.9 -165.6 L767.1 -137.6 L774.2 -111.5 L781.4 -87.1 L788.6 -64.1 L795.8 -42.5 L803 -22.1 L810.2 -2.8 L817.3 15.4 L824.5 32.7 L831.7 49.1 L838.9 64.6 L846.1 79.5 L853.3 93.6 L860.4 107 L867.6 119.9 L874.8 132.2 L882 143.9 L889.2 155.2 L896.4 166 L903.6 176.3 L910.7 186.3 L917.9 195.8 L925.1 205 L932.3 213.8 L939.5 222.3 L946.7 230.5 L953.8 238.4 L961 246 L968.2 253.3 L975.4 260.4 L982.6 267.3 L989.8 273.9 L996.9 280.3 L1004.1 286.4 L1011.3 292.4 L1018.5 298.2 L1025.7 303.8 L1032.9 309.3 L1040 314.5 L1047.2 319.6 L1054.4 324.6 L1061.6 329.4 L1061.6 -361.4 L702.4 -361.4 Z" fill="#d5ffd5"/>
<path d="M702.4 -319.3 L709.6 -319.3 L716.8 -319.3 L724 -319.3 L731.1 -300.3 L738.3 -262.6 L745.5 -227.8 L752.7 -195.5 L759.9 -165.6 L767.1 -137.6 L774.2 -111.5 L781.4 -87.1 L788.6 -64.1 L795.8 -42.5 L803 -22.1 L810.2 -2.8 L817.3 15.4 L824.5 32.7 L831.7 49.1 L838.9 64.6 L846.1 79.5 L853.3 93.6 L860.4 107 L867.6 119.9 L874.8 132.2 L882 143.9 L889.2 155.2 L896.4 166 L903.6 176.3 L910.7 186.3 L917.9 195.8 L925.1 205 L932.3 213.8 L939.5 222.3 L946.7 230.5 L953.8 238.4 L961 246 L968.2 253.3 L975.4 260.4 L982.6 267.3 L989.8 273.9 L996.9 280.3 L1004.1 286.4 L1011.3 292.4 L1018.5 298.2 L1025.7 303.8 L1032.9 309.3 L1040 314.5 L1047.2 319.6 L1054.4 324.6 L1061.6 329.4" fill="none" stroke="#40a878" stroke-width="1.5"/>
<path d="M702.4 -319.3 L709.6 -319.3 L716.8 -319.3 L724 -319.3 L731.1 -319.3 L738.3 -319.3 L745.5 -319.3 L752.7 -319.3 L759.9 -300.4 L767.1 -267.6 L774.2 -237 L781.4 -208.4 L788.6 -181.5 L795.8 -156.3 L803 -132.5 L810.2 -110.1 L817.3 -88.9 L824.5 -68.9 L831.7 -49.8 L838.9 -31.8 L846.1 -14.6 L853.3 1.8 L860.4 17.4 L867.6 32.2 L874.8 46.5 L882 60.1 L889.2 73.1 L896.4 85.6 L903.6 97.5 L910.7 109 L917.9 120 L925.1 130.6 L932.3 140.8 L939.5 150.6 L946.7 160.1 L953.8 169.2 L961 178 L968.2 186.5 L975.4 194.6 L982.6 202.5 L989.8 210.2 L996.9 217.6 L1004.1 224.7 L1011.3 231.6 L1018.5 238.3 L1025.7 244.8 L1032.9 251.1 L1040 257.2 L1047.2 263.1 L1054.4 268.8 L1061.6 274.4 L1061.6 -361.4 L702.4 -361.4 Z" fill="#55ff55"/>
<path d="M702.4 -319.3 L709.6 -319.3 L716.8 -319.3 L724 -319.3 L731.1 -319.3 L738.3 -319.3 L745.5 -319.3 L752.7 -319.3 L759.9 -300.4 L767.1 -267.6 L774.2 -237 L781.4 -208.4 L788.6 -181.5 L795.8 -156.3 L803 -132.5 L810.2 -110.1 L817.3 -88.9 L824.5 -68.9 L831.7 -49.8 L838.9 -31.8 L846.1 -14.6 L853.3 1.8 L860.4 17.4 L867.6 32.2 L874.8 46.5 L882 60.1 L889.2 73.1 L896.4 85.6 L903.6 97.5 L910.7 109 L917.9 120 L925.1 130.6 L932.3 140.8 L939.5 150.6 L946.7 160.1 L953.8 169.2 L961 178 L968.2 186.5 L975.4 194.6 L982.6 202.5 L989.8 210.2 L996.9 217.6 L1004.1 224.7 L1011.3 231.6 L1018.5 238.3 L1025.7 244.8 L1032.9 251.1 L1040 257.2 L1047.2 263.1 L1054.4 268.8 L1061.6 274.4" fill="none" stroke="#10bc10" stroke-width="1.5"/>
<path d="M702.4 -319.3 L709.6 -319.3 L716.8 -319.3 L724 -319.3 L731.1 -319.3 L738.3 -319.3 L745.5 -319.3 L752.7 -319.3 L759.9 -319.3 L767.1 -319.3 L774.2 -319.3 L781.4 -319.3 L788.6 -301 L795.8 -272 L803 -244.7 L810.2 -219 L817.3 -194.7 L824.5 -171.7 L831.7 -150 L838.9 -129.3 L846.1 -109.7 L853.3 -91 L860.4 -73.2 L867.6 -56.3 L874.8 -40.1 L882 -24.6 L889.2 -9.7 L896.4 4.5 L903.6 18.1 L910.7 31.1 L917.9 43.7 L925.1 55.7 L932.3 67.3 L939.5 78.5 L946.7 89.2 L953.8 99.6 L961 109.6 L968.2 119.2 L975.4 128.5 L982.6 137.5 L989.8 146.2 L996.9 154.6 L1004.1 162.7 L1011.3 170.5 L1018.5 178.2 L1025.7 185.5 L1032.9 192.7 L1040 199.6 L1047.2 206.3 L1054.4 212.8 L1061.6 219.2 L1061.6 -361.4 L702.4 -361.4 Z" fill="#00d400"/>
<path d="M702.4 -319.3 L709.6 -319.3 L716.8 -319.3 L724 -319.3 L731.1 -319.3 L738.3 -319.3 L745.5 -319.3 L752.7 -319.3 L759.9 -319.3 L767.1 -319.3 L774.2 -319.3 L781.4 -319.3 L788.6 -301 L795.8 -272 L803 -244.7 L810.2 -219 L817.3 -194.7 L824.5 -171.7 L831.7 -150 L838.9 -129.3 L846.1 -109.7 L853.3 -91 L860.4 -73.2 L867.6 -56.3 L874.8 -40.1 L882 -24.6 L889.2 -9.7 L896.4 4.5 L903.6 18.1 L910.7 31.1 L917.9 43.7 L925.1 55.7 L932.3 67.3 L939.5 78.5 L946.7 89.2 L953.8 99.6 L961 109.6 L968.2 119.2 L975.4 128.5 L982.6 137.5 L989.8 146.2 L996.9 154.6 L1004.1 162.7 L1011.3 170.5 L1018.5 178.2 L1025.7 185.5 L1032.9 192.7 L1040 199.6 L1047.2 206.3 L1054.4 212.8 L1061.6 219.2" fill="none" stroke="#009800" stroke-width="1.5"/>
<path d="M702.4 -319.3 L709.6 -319.3 L716.8 -319.3 L724 -319.3 L731.1 -319.3 L738.3 -319.3 L745.5 -319.3 L752.7 -319.3 L759.9 -319.3 L767.1 -319.3 L774.2 -319.3 L781.4 -319.3 L788.6 -319.3 L795.8 -319.3 L803 -319.3 L810.2 -319.3 L817.3 -302 L824.5 -276 L831.7 -251.4 L838.9 -228 L846.1 -205.9 L853.3 -184.8 L860.4 -164.8 L867.6 -145.6 L874.8 -127.4 L882 -110 L889.2 -93.3 L896.4 -77.3 L903.6 -62 L910.7 -47.3 L917.9 -33.2 L925.1 -19.7 L932.3 -6.7 L939.5 5.9 L946.7 17.9 L953.8 29.5 L961 40.8 L968.2 51.6 L975.4 62 L982.6 72.1 L989.8 81.8 L996.9 91.2 L1004.1 100.4 L1011.3 109.2 L1018.5 117.7 L1025.7 126 L1032.9 134 L1040 141.8 L1047.2 149.3 L1054.4 156.6 L1061.6 163.7 L1061.6 -361.4 L702.4 -361.4 Z" fill="#009a00"/>
<path d="M702.4 -319.3 L709.6 -319.3 L716.8 -319.3 L724 -319.3 L731.1 -319.3 L738.3 -319.3 L745.5 -319.3 L752.7 -319.3 L759.9 -319.3 L767.1 -319.3 L774.2 -319.3 L781.4 -319.3 L788.6 -319.3 L795.8 -319.3 L803 -319.3 L810.2 -319.3 L817.3 -302 L824.5 -276 L831.7 -251.4 L838.9 -228 L846.1 -205.9 L853.3 -184.8 L860.4 -164.8 L867.6 -145.6 L874.8 -127.4 L882 -110 L889.2 -93.3 L896.4 -77.3 L903.6 -62 L910.7 -47.3 L917.9 -33.2 L925.1 -19.7 L932.3 -6.7 L939.5 5.9 L946.7 17.9 L953.8 29.5 L961 40.8 L968.2 51.6 L975.4 62 L982.6 72.1 L989.8 81.8 L996.9 91.2 L1004.1 100.4 L1011.3 109.2 L1018.5 117.7 L1025.7 126 L1032.9 134 L1040 141.8 L1047.2 149.3 L1054.4 156.6 L1061.6 163.7" fill="none" stroke="#006800" stroke-width="1.5"/>
<path d="M702.4 -319.3 L709.6 -319.3 L716.8 -319.3 L724 -319.3 L731.1 -319.3 L738.3 -319.3 L745.5 -319.3 L752.7 -319.3 L759.9 -319.3 L767.1 -319.3 L774.2 -319.3 L781.4 -319.3 L788.6 -319.3 L795.8 -319.3 L803 -319.3 L810.2 -319.3 L817.3 -319.3 L824.5 -319.3 L831.7 -319.3 L838.9 -319.3 L846.1 -303.2 L853.3 -279.7 L860.4 -257.3 L867.6 -235.9 L874.8 -215.6 L882 -196.1 L889.2 -177.5 L896.4 -159.8 L903.6 -142.7 L910.7 -126.4 L917.9 -110.7 L925.1 -95.6 L932.3 -81.2 L939.5 -67.2 L946.7 -53.8 L953.8 -40.9 L961 -28.5 L968.2 -16.5 L975.4 -4.9 L982.6 6.3 L989.8 17.2 L996.9 27.6 L1004.1 37.7 L1011.3 47.5 L1018.5 57 L1025.7 66.2 L1032.9 75.1 L1040 83.7 L1047.2 92.1 L1054.4 100.2 L1061.6 108.1 L1061.6 -361.4 L702.4 -361.4 Z" fill="#006c00"/>
<path d="M702.4 -319.3 L709.6 -319.3 L716.8 -319.3 L724 -319.3 L731.1 -319.3 L738.3 -319.3 L745.5 -319.3 L752.7 -319.3 L759.9 -319.3 L767.1 -319.3 L774.2 -319.3 L781.4 -319.3 L788.6 -319.3 L795.8 -319.3 L803 -319.3 L810.2 -319.3 L817.3 -319.3 L824.5 -319.3 L831.7 -319.3 L838.9 -319.3 L846.1 -303.2 L853.3 -279.7 L860.4 -257.3 L867.6 -235.9 L874.8 -215.6 L882 -196.1 L889.2 -177.5 L896.4 -159.8 L903.6 -142.7 L910.7 -126.4 L917.9 -110.7 L925.1 -95.6 L932.3 -81.2 L939.5 -67.2 L946.7 -53.8 L953.8 -40.9 L961 -28.5 L968.2 -16.5 L975.4 -4.9 L982.6 6.3 L989.8 17.2 L996.9 27.6 L1004.1 37.7 L1011.3 47.5 L1018.5 57 L1025.7 66.2 L1032.9 75.1 L1040 83.7 L1047.2 92.1 L1054.4 100.2 L1061.6 108.1" fill="none" stroke="#004400" stroke-width="1.5"/>
<path d="M702.4 -319.3 L709.6 -319.3 L716.8 -319.3 L724 -319.3 L731.1 -319.3 L738.3 -319.3 L745.5 -319.3 L752.7 -319.3 L759.9 -319.3 L767.1 -319.3 L774.2 -319.3 L781.4 -319.3 L788.6 -319.3 L795.8 -319.3 L803 -319.3 L810.2 -319.3 L817.3 -319.3 L824.5 -319.3 L831.7 -319.3 L838.9 -319.3 L846.1 -319.3 L853.3 -319.3 L860.4 -319.3 L867.6 -319.3 L874.8 -304.6 L882 -283.1 L889.2 -262.6 L896.4 -242.9 L903.6 -224.1 L910.7 -206.1 L917.9 -188.8 L925.1 -172.2 L932.3 -156.2 L939.5 -140.8 L946.7 -126.1 L953.8 -111.8 L961 -98.1 L968.2 -84.9 L975.4 -72.1 L982.6 -59.8 L989.8 -47.9 L996.9 -36.3 L1004.1 -25.2 L1011.3 -14.4 L1018.5 -4 L1025.7 6.1 L1032.9 15.9 L1040 25.4 L1047.2 34.6 L1054.4 43.6 L1061.6 52.3 L1061.6 -361.4 L702.4 -361.4 Z" fill="#004200"/>
<path d="M702.4 -319.3 L709.6 -319.3 L716.8 -319.3 L724 -319.3 L731.1 -319.3 L738.3 -319.3 L745.5 -319.3 L752.7 -319.3 L759.9 -319.3 L767.1 -319.3 L774.2 -319.3 L781.4 -319.3 L788.6 -319.3 L795.8 -319.3 L803 -319.3 L810.2 -319.3 L817.3 -319.3 L824.5 -319.3 L831.7 -319.3 L838.9 -319.3 L846.1 -319.3 L853.3 -319.3 L860.4 -319.3 L867.6 -319.3 L874.8 -304.6 L882 -283.1 L889.2 -262.6 L896.4 -242.9 L903.6 -224.1 L910.7 -206.1 L917.9 -188.8 L925.1 -172.2 L932.3 -156.2 L939.5 -140.8 L946.7 -126.1 L953.8 -111.8 L961 -98.1 L968.2 -84.9 L975.4 -72.1 L982.6 -59.8 L989.8 -47.9 L996.9 -36.3 L1004.1 -25.2 L1011.3 -14.4 L1018.5 -4 L1025.7 6.1 L1032.9 15.9 L1040 25.4 L1047.2 34.6 L1054.4 43.6 L1061.6 52.3" fill="none" stroke="#002a00" stroke-width="1.5"/>
</g>
<path d="M1060.8 38.6 L1060.8 395.7 L702.4 395.7" fill="none" stroke="#fff" stroke-width="1.6" opacity="0.28"/>
<path d="M702.4 39.1 L1061.6 39.1" fill="none" stroke="#fff" stroke-width="1" opacity="0.3"/>
<path d="M696.4 38.1 L1061.6 38.1" fill="none" stroke="#999" stroke-width="1" opacity="0.8"/>
<path d="M702.4 396.3 L1061.6 396.3" fill="none" stroke="#2828a8" stroke-width="1.4" opacity="0.55"/>
<line x1="702.4" y1="396.5" x2="702.4" y2="402.5" stroke="#6a6a6a" stroke-width="1.4"/>
<text x="702.4" y="419.1" font-size="16.8" text-anchor="middle" font-weight="bold">50</text>
<line x1="792.2" y1="396.5" x2="792.2" y2="402.5" stroke="#6a6a6a" stroke-width="1.4"/>
<text x="792.2" y="419.1" font-size="16.8" text-anchor="middle" font-weight="bold">75</text>
<line x1="882" y1="396.5" x2="882" y2="402.5" stroke="#6a6a6a" stroke-width="1.4"/>
<text x="882" y="419.1" font-size="16.8" text-anchor="middle" font-weight="bold">100</text>
<line x1="971.8" y1="396.5" x2="971.8" y2="402.5" stroke="#6a6a6a" stroke-width="1.4"/>
<text x="971.8" y="419.1" font-size="16.8" text-anchor="middle" font-weight="bold">125</text>
<line x1="1061.6" y1="396.5" x2="1061.6" y2="402.5" stroke="#6a6a6a" stroke-width="1.4"/>
<text x="1061.6" y="419.1" font-size="16.8" text-anchor="middle" font-weight="bold">150</text>
<line x1="696.4" y1="396.5" x2="702.4" y2="396.5" stroke="#6a6a6a" stroke-width="1.4"/>
<text x="693.7" y="402" font-size="16.8" text-anchor="end" font-weight="bold">150</text>
<line x1="696.4" y1="307" x2="702.4" y2="307" stroke="#6a6a6a" stroke-width="1.4"/>
<text x="693.7" y="312.6" font-size="16.8" text-anchor="end" font-weight="bold">175</text>
<line x1="696.4" y1="217.6" x2="702.4" y2="217.6" stroke="#6a6a6a" stroke-width="1.4"/>
<text x="693.7" y="223.1" font-size="16.8" text-anchor="end" font-weight="bold">200</text>
<line x1="696.4" y1="128.1" x2="702.4" y2="128.1" stroke="#6a6a6a" stroke-width="1.4"/>
<text x="693.7" y="133.6" font-size="16.8" text-anchor="end" font-weight="bold">225</text>
<line x1="696.4" y1="38.6" x2="702.4" y2="38.6" stroke="#6a6a6a" stroke-width="1.4"/>
<text x="693.7" y="44.1" font-size="16.8" text-anchor="end" font-weight="bold">250</text>
<text x="881.8" y="440" font-size="16.7" text-anchor="middle" font-weight="bold">Cutting Speed (m/min)</text>
<text x="653.5" y="217.4" font-size="17" text-anchor="middle" font-weight="bold" transform="rotate(-90 653.5 217.4)">Feed Velocity (mm/min)</text>
<rect x="1066.4" y="38.3" width="98.9" height="291.3" rx="1.2" fill="#fff" stroke="#999" stroke-width="1.7"/>
<text x="1124" y="54" font-size="13.5" text-anchor="middle" font-weight="bold">Material</text>
<text x="1124" y="71.5" font-size="13.5" text-anchor="middle" font-weight="bold">Removal</text>
<text x="1124" y="89.5" font-size="13.5" text-anchor="middle" font-weight="bold">Rate</text>
<text x="1124" y="107.5" font-size="13.5" text-anchor="middle" font-weight="bold">(mm<tspan font-size="8.8" dy="-5.1">3</tspan><tspan dy="5.1">/sec)</tspan></text>
<rect x="1071.2" y="114.7" width="15" height="13" fill="#000080"/>
<text x="1129" y="125.4" font-size="12.8" text-anchor="middle" font-weight="bold">&lt;</text>
<text x="1154" y="125.4" font-size="12.8" text-anchor="end" font-weight="bold">10</text>
<rect x="1071.2" y="132.7" width="15" height="13" fill="#0000c0"/>
<text x="1094" y="143.4" font-size="12.8" text-anchor="start" font-weight="bold">10</text>
<text x="1129" y="143.4" font-size="12.8" text-anchor="middle" font-weight="bold">–</text>
<text x="1154" y="143.4" font-size="12.8" text-anchor="end" font-weight="bold">14</text>
<rect x="1071.2" y="150.6" width="15" height="13" fill="#0000ff"/>
<text x="1094" y="161.4" font-size="12.8" text-anchor="start" font-weight="bold">14</text>
<text x="1129" y="161.4" font-size="12.8" text-anchor="middle" font-weight="bold">–</text>
<text x="1154" y="161.4" font-size="12.8" text-anchor="end" font-weight="bold">18</text>
<rect x="1071.2" y="168.6" width="15" height="13" fill="#6a6aff"/>
<text x="1094" y="179.3" font-size="12.8" text-anchor="start" font-weight="bold">18</text>
<text x="1129" y="179.3" font-size="12.8" text-anchor="middle" font-weight="bold">–</text>
<text x="1154" y="179.3" font-size="12.8" text-anchor="end" font-weight="bold">22</text>
<rect x="1071.2" y="186.6" width="15" height="13" fill="#aaaaff"/>
<text x="1094" y="197.3" font-size="12.8" text-anchor="start" font-weight="bold">22</text>
<text x="1129" y="197.3" font-size="12.8" text-anchor="middle" font-weight="bold">–</text>
<text x="1154" y="197.3" font-size="12.8" text-anchor="end" font-weight="bold">26</text>
<rect x="1071.2" y="204.6" width="15" height="13" fill="#e6e6ff"/>
<text x="1094" y="215.3" font-size="12.8" text-anchor="start" font-weight="bold">26</text>
<text x="1129" y="215.3" font-size="12.8" text-anchor="middle" font-weight="bold">–</text>
<text x="1154" y="215.3" font-size="12.8" text-anchor="end" font-weight="bold">30</text>
<rect x="1071.2" y="222.5" width="15" height="13" fill="#d5ffd5"/>
<text x="1094" y="233.2" font-size="12.8" text-anchor="start" font-weight="bold">30</text>
<text x="1129" y="233.2" font-size="12.8" text-anchor="middle" font-weight="bold">–</text>
<text x="1154" y="233.2" font-size="12.8" text-anchor="end" font-weight="bold">34</text>
<rect x="1071.2" y="240.5" width="15" height="13" fill="#55ff55"/>
<text x="1094" y="251.2" font-size="12.8" text-anchor="start" font-weight="bold">34</text>
<text x="1129" y="251.2" font-size="12.8" text-anchor="middle" font-weight="bold">–</text>
<text x="1154" y="251.2" font-size="12.8" text-anchor="end" font-weight="bold">38</text>
<rect x="1071.2" y="258.5" width="15" height="13" fill="#00d400"/>
<text x="1094" y="269.2" font-size="12.8" text-anchor="start" font-weight="bold">38</text>
<text x="1129" y="269.2" font-size="12.8" text-anchor="middle" font-weight="bold">–</text>
<text x="1154" y="269.2" font-size="12.8" text-anchor="end" font-weight="bold">42</text>
<rect x="1071.2" y="276.4" width="15" height="13" fill="#009a00"/>
<text x="1094" y="287.2" font-size="12.8" text-anchor="start" font-weight="bold">42</text>
<text x="1129" y="287.2" font-size="12.8" text-anchor="middle" font-weight="bold">–</text>
<text x="1154" y="287.2" font-size="12.8" text-anchor="end" font-weight="bold">46</text>
<rect x="1071.2" y="294.4" width="15" height="13" fill="#006c00"/>
<text x="1094" y="305.1" font-size="12.8" text-anchor="start" font-weight="bold">46</text>
<text x="1129" y="305.1" font-size="12.8" text-anchor="middle" font-weight="bold">–</text>
<text x="1154" y="305.1" font-size="12.8" text-anchor="end" font-weight="bold">50</text>
<rect x="1071.2" y="312.4" width="15" height="13" fill="#004200"/>
<text x="1129" y="323.1" font-size="12.8" text-anchor="middle" font-weight="bold">&gt;</text>
<text x="1154" y="323.1" font-size="12.8" text-anchor="end" font-weight="bold">50</text>
<rect x="1066.7" y="335" width="153.7" height="41.6" rx="1.2" fill="#fff" stroke="#999" stroke-width="1.7"/>
<text x="1143.5" y="351.6" font-size="14.1" text-anchor="middle" font-weight="bold">Hold Values</text>
<text x="1143.5" y="368.9" font-size="14.1" text-anchor="middle" font-weight="bold" xml:space="preserve">Depth of Cut (mm) 1.5</text>
<rect x="1298.1" y="30.4" width="374.5" height="368.6" fill="#000080"/>
<g clip-path="url(#cp3)">
<path d="M1298.1 400.7 L1305.6 416.4 L1313.1 429.8 L1320.6 441.3 L1328.1 451.3 L1335.5 460 L1343 467.7 L1350.5 474.6 L1358 480.7 L1365.5 486.2 L1373 491.1 L1380.5 495.6 L1388 499.6 L1395.5 503.3 L1403 506.6 L1410.4 509.7 L1417.9 512.5 L1425.4 515.1 L1432.9 517.5 L1440.4 519.7 L1447.9 521.7 L1455.4 523.5 L1462.9 525.2 L1470.4 526.8 L1477.9 528.3 L1485.3 529.6 L1492.8 530.9 L1500.3 532 L1507.8 533.1 L1515.3 534.1 L1522.8 535 L1530.3 535.8 L1537.8 536.6 L1545.3 537.3 L1552.8 538 L1560.2 538.6 L1567.7 539.1 L1575.2 539.6 L1582.7 540.1 L1590.2 540.5 L1597.7 540.9 L1605.2 541.2 L1612.7 541.5 L1620.2 541.8 L1627.7 542 L1635.1 542.2 L1642.6 542.4 L1650.1 542.5 L1657.6 542.7 L1665.1 542.8 L1672.6 542.8 L1672.6 -369.6 L1298.1 -369.6 Z" fill="#0000c0"/>
<path d="M1298.1 400.7 L1305.6 416.4 L1313.1 429.8 L1320.6 441.3 L1328.1 451.3 L1335.5 460 L1343 467.7 L1350.5 474.6 L1358 480.7 L1365.5 486.2 L1373 491.1 L1380.5 495.6 L1388 499.6 L1395.5 503.3 L1403 506.6 L1410.4 509.7 L1417.9 512.5 L1425.4 515.1 L1432.9 517.5 L1440.4 519.7 L1447.9 521.7 L1455.4 523.5 L1462.9 525.2 L1470.4 526.8 L1477.9 528.3 L1485.3 529.6 L1492.8 530.9 L1500.3 532 L1507.8 533.1 L1515.3 534.1 L1522.8 535 L1530.3 535.8 L1537.8 536.6 L1545.3 537.3 L1552.8 538 L1560.2 538.6 L1567.7 539.1 L1575.2 539.6 L1582.7 540.1 L1590.2 540.5 L1597.7 540.9 L1605.2 541.2 L1612.7 541.5 L1620.2 541.8 L1627.7 542 L1635.1 542.2 L1642.6 542.4 L1650.1 542.5 L1657.6 542.7 L1665.1 542.8 L1672.6 542.8" fill="none" stroke="#000050" stroke-width="1.5"/>
<path d="M1298.1 122.7 L1305.6 165 L1313.1 199.8 L1320.6 228.9 L1328.1 253.8 L1335.5 275.3 L1343 294.1 L1350.5 310.7 L1358 325.5 L1365.5 338.7 L1373 350.6 L1380.5 361.4 L1388 371.1 L1395.5 380.1 L1403 388.2 L1410.4 395.7 L1417.9 402.7 L1425.4 409.1 L1432.9 415 L1440.4 420.5 L1447.9 425.6 L1455.4 430.3 L1462.9 434.8 L1470.4 438.9 L1477.9 442.8 L1485.3 446.5 L1492.8 449.9 L1500.3 453.1 L1507.8 456.1 L1515.3 459 L1522.8 461.7 L1530.3 464.2 L1537.8 466.6 L1545.3 468.8 L1552.8 470.9 L1560.2 472.9 L1567.7 474.8 L1575.2 476.6 L1582.7 478.3 L1590.2 480 L1597.7 481.5 L1605.2 482.9 L1612.7 484.3 L1620.2 485.6 L1627.7 486.8 L1635.1 488 L1642.6 489.1 L1650.1 490.1 L1657.6 491.1 L1665.1 492 L1672.6 492.9 L1672.6 -369.6 L1298.1 -369.6 Z" fill="#0000ff"/>
<path d="M1298.1 122.7 L1305.6 165 L1313.1 199.8 L1320.6 228.9 L1328.1 253.8 L1335.5 275.3 L1343 294.1 L1350.5 310.7 L1358 325.5 L1365.5 338.7 L1373 350.6 L1380.5 361.4 L1388 371.1 L1395.5 380.1 L1403 388.2 L1410.4 395.7 L1417.9 402.7 L1425.4 409.1 L1432.9 415 L1440.4 420.5 L1447.9 425.6 L1455.4 430.3 L1462.9 434.8 L1470.4 438.9 L1477.9 442.8 L1485.3 446.5 L1492.8 449.9 L1500.3 453.1 L1507.8 456.1 L1515.3 459 L1522.8 461.7 L1530.3 464.2 L1537.8 466.6 L1545.3 468.8 L1552.8 470.9 L1560.2 472.9 L1567.7 474.8 L1575.2 476.6 L1582.7 478.3 L1590.2 480 L1597.7 481.5 L1605.2 482.9 L1612.7 484.3 L1620.2 485.6 L1627.7 486.8 L1635.1 488 L1642.6 489.1 L1650.1 490.1 L1657.6 491.1 L1665.1 492 L1672.6 492.9" fill="none" stroke="#000090" stroke-width="1.5"/>
<path d="M1298.1 -219.1 L1305.6 -130.4 L1313.1 -62.4 L1320.6 -7.9 L1328.1 37.2 L1335.5 75.2 L1343 108 L1350.5 136.5 L1358 161.5 L1365.5 183.8 L1373 203.7 L1380.5 221.6 L1388 237.8 L1395.5 252.6 L1403 266.1 L1410.4 278.4 L1417.9 289.8 L1425.4 300.3 L1432.9 310.1 L1440.4 319.1 L1447.9 327.5 L1455.4 335.4 L1462.9 342.7 L1470.4 349.6 L1477.9 356 L1485.3 362.1 L1492.8 367.8 L1500.3 373.1 L1507.8 378.2 L1515.3 382.9 L1522.8 387.5 L1530.3 391.7 L1537.8 395.8 L1545.3 399.6 L1552.8 403.3 L1560.2 406.7 L1567.7 410 L1575.2 413.1 L1582.7 416.1 L1590.2 418.9 L1597.7 421.6 L1605.2 424.2 L1612.7 426.7 L1620.2 429 L1627.7 431.3 L1635.1 433.4 L1642.6 435.4 L1650.1 437.4 L1657.6 439.2 L1665.1 441 L1672.6 442.7 L1672.6 -369.6 L1298.1 -369.6 Z" fill="#6a6aff"/>
<path d="M1298.1 -219.1 L1305.6 -130.4 L1313.1 -62.4 L1320.6 -7.9 L1328.1 37.2 L1335.5 75.2 L1343 108 L1350.5 136.5 L1358 161.5 L1365.5 183.8 L1373 203.7 L1380.5 221.6 L1388 237.8 L1395.5 252.6 L1403 266.1 L1410.4 278.4 L1417.9 289.8 L1425.4 300.3 L1432.9 310.1 L1440.4 319.1 L1447.9 327.5 L1455.4 335.4 L1462.9 342.7 L1470.4 349.6 L1477.9 356 L1485.3 362.1 L1492.8 367.8 L1500.3 373.1 L1507.8 378.2 L1515.3 382.9 L1522.8 387.5 L1530.3 391.7 L1537.8 395.8 L1545.3 399.6 L1552.8 403.3 L1560.2 406.7 L1567.7 410 L1575.2 413.1 L1582.7 416.1 L1590.2 418.9 L1597.7 421.6 L1605.2 424.2 L1612.7 426.7 L1620.2 429 L1627.7 431.3 L1635.1 433.4 L1642.6 435.4 L1650.1 437.4 L1657.6 439.2 L1665.1 441 L1672.6 442.7" fill="none" stroke="#0000c8" stroke-width="1.5"/>
<path d="M1298.1 -338.2 L1305.6 -338.2 L1313.1 -338.2 L1320.6 -280.3 L1328.1 -205.7 L1335.5 -144.9 L1343 -94 L1350.5 -50.6 L1358 -12.9 L1365.5 20.1 L1373 49.4 L1380.5 75.5 L1388 99.1 L1395.5 120.4 L1403 139.7 L1410.4 157.5 L1417.9 173.7 L1425.4 188.7 L1432.9 202.6 L1440.4 215.4 L1447.9 227.4 L1455.4 238.5 L1462.9 248.9 L1470.4 258.6 L1477.9 267.7 L1485.3 276.3 L1492.8 284.4 L1500.3 292 L1507.8 299.2 L1515.3 305.9 L1522.8 312.4 L1530.3 318.4 L1537.8 324.2 L1545.3 329.7 L1552.8 334.9 L1560.2 339.9 L1567.7 344.6 L1575.2 349.1 L1582.7 353.4 L1590.2 357.4 L1597.7 361.3 L1605.2 365.1 L1612.7 368.6 L1620.2 372.1 L1627.7 375.3 L1635.1 378.5 L1642.6 381.5 L1650.1 384.3 L1657.6 387.1 L1665.1 389.7 L1672.6 392.3 L1672.6 -369.6 L1298.1 -369.6 Z" fill="#aaaaff"/>
<path d="M1298.1 -338.2 L1305.6 -338.2 L1313.1 -338.2 L1320.6 -280.3 L1328.1 -205.7 L1335.5 -144.9 L1343 -94 L1350.5 -50.6 L1358 -12.9 L1365.5 20.1 L1373 49.4 L1380.5 75.5 L1388 99.1 L1395.5 120.4 L1403 139.7 L1410.4 157.5 L1417.9 173.7 L1425.4 188.7 L1432.9 202.6 L1440.4 215.4 L1447.9 227.4 L1455.4 238.5 L1462.9 248.9 L1470.4 258.6 L1477.9 267.7 L1485.3 276.3 L1492.8 284.4 L1500.3 292 L1507.8 299.2 L1515.3 305.9 L1522.8 312.4 L1530.3 318.4 L1537.8 324.2 L1545.3 329.7 L1552.8 334.9 L1560.2 339.9 L1567.7 344.6 L1575.2 349.1 L1582.7 353.4 L1590.2 357.4 L1597.7 361.3 L1605.2 365.1 L1612.7 368.6 L1620.2 372.1 L1627.7 375.3 L1635.1 378.5 L1642.6 381.5 L1650.1 384.3 L1657.6 387.1 L1665.1 389.7 L1672.6 392.3" fill="none" stroke="#1c1cd8" stroke-width="1.5"/>
<path d="M1298.1 -338.2 L1305.6 -338.2 L1313.1 -338.2 L1320.6 -338.2 L1328.1 -338.2 L1335.5 -338.2 L1343 -316.7 L1350.5 -253.7 L1358 -200.2 L1365.5 -154 L1373 -113.6 L1380.5 -77.8 L1388 -45.9 L1395.5 -17.2 L1403 8.8 L1410.4 32.5 L1417.9 54.1 L1425.4 74 L1432.9 92.3 L1440.4 109.2 L1447.9 124.9 L1455.4 139.6 L1462.9 153.2 L1470.4 166 L1477.9 177.9 L1485.3 189.2 L1492.8 199.7 L1500.3 209.7 L1507.8 219.1 L1515.3 227.9 L1522.8 236.3 L1530.3 244.3 L1537.8 251.8 L1545.3 259 L1552.8 265.8 L1560.2 272.3 L1567.7 278.5 L1575.2 284.4 L1582.7 290 L1590.2 295.4 L1597.7 300.6 L1605.2 305.5 L1612.7 310.2 L1620.2 314.7 L1627.7 319 L1635.1 323.2 L1642.6 327.1 L1650.1 330.9 L1657.6 334.6 L1665.1 338.1 L1672.6 341.5 L1672.6 -369.6 L1298.1 -369.6 Z" fill="#e6e6ff"/>
<path d="M1298.1 -338.2 L1305.6 -338.2 L1313.1 -338.2 L1320.6 -338.2 L1328.1 -338.2 L1335.5 -338.2 L1343 -316.7 L1350.5 -253.7 L1358 -200.2 L1365.5 -154 L1373 -113.6 L1380.5 -77.8 L1388 -45.9 L1395.5 -17.2 L1403 8.8 L1410.4 32.5 L1417.9 54.1 L1425.4 74 L1432.9 92.3 L1440.4 109.2 L1447.9 124.9 L1455.4 139.6 L1462.9 153.2 L1470.4 166 L1477.9 177.9 L1485.3 189.2 L1492.8 199.7 L1500.3 209.7 L1507.8 219.1 L1515.3 227.9 L1522.8 236.3 L1530.3 244.3 L1537.8 251.8 L1545.3 259 L1552.8 265.8 L1560.2 272.3 L1567.7 278.5 L1575.2 284.4 L1582.7 290 L1590.2 295.4 L1597.7 300.6 L1605.2 305.5 L1612.7 310.2 L1620.2 314.7 L1627.7 319 L1635.1 323.2 L1642.6 327.1 L1650.1 330.9 L1657.6 334.6 L1665.1 338.1 L1672.6 341.5" fill="none" stroke="#3030e0" stroke-width="1.5"/>
<path d="M1298.1 -338.2 L1305.6 -338.2 L1313.1 -338.2 L1320.6 -338.2 L1328.1 -338.2 L1335.5 -338.2 L1343 -338.2 L1350.5 -338.2 L1358 -338.2 L1365.5 -338.2 L1373 -286.8 L1380.5 -239.6 L1388 -197.9 L1395.5 -160.7 L1403 -127.3 L1410.4 -97 L1417.9 -69.4 L1425.4 -44.2 L1432.9 -21 L1440.4 0.3 L1447.9 20.1 L1455.4 38.5 L1462.9 55.6 L1470.4 71.6 L1477.9 86.5 L1485.3 100.5 L1492.8 113.7 L1500.3 126.1 L1507.8 137.8 L1515.3 148.9 L1522.8 159.3 L1530.3 169.2 L1537.8 178.6 L1545.3 187.6 L1552.8 196.1 L1560.2 204.1 L1567.7 211.8 L1575.2 219.2 L1582.7 226.2 L1590.2 232.9 L1597.7 239.3 L1605.2 245.4 L1612.7 251.3 L1620.2 256.9 L1627.7 262.3 L1635.1 267.5 L1642.6 272.5 L1650.1 277.2 L1657.6 281.8 L1665.1 286.2 L1672.6 290.5 L1672.6 -369.6 L1298.1 -369.6 Z" fill="#d5ffd5"/>
<path d="M1298.1 -338.2 L1305.6 -338.2 L1313.1 -338.2 L1320.6 -338.2 L1328.1 -338.2 L1335.5 -338.2 L1343 -338.2 L1350.5 -338.2 L1358 -338.2 L1365.5 -338.2 L1373 -286.8 L1380.5 -239.6 L1388 -197.9 L1395.5 -160.7 L1403 -127.3 L1410.4 -97 L1417.9 -69.4 L1425.4 -44.2 L1432.9 -21 L1440.4 0.3 L1447.9 20.1 L1455.4 38.5 L1462.9 55.6 L1470.4 71.6 L1477.9 86.5 L1485.3 100.5 L1492.8 113.7 L1500.3 126.1 L1507.8 137.8 L1515.3 148.9 L1522.8 159.3 L1530.3 169.2 L1537.8 178.6 L1545.3 187.6 L1552.8 196.1 L1560.2 204.1 L1567.7 211.8 L1575.2 219.2 L1582.7 226.2 L1590.2 232.9 L1597.7 239.3 L1605.2 245.4 L1612.7 251.3 L1620.2 256.9 L1627.7 262.3 L1635.1 267.5 L1642.6 272.5 L1650.1 277.2 L1657.6 281.8 L1665.1 286.2 L1672.6 290.5" fill="none" stroke="#40a878" stroke-width="1.5"/>
<path d="M1298.1 -338.2 L1305.6 -338.2 L1313.1 -338.2 L1320.6 -338.2 L1328.1 -338.2 L1335.5 -338.2 L1343 -338.2 L1350.5 -338.2 L1358 -338.2 L1365.5 -338.2 L1373 -338.2 L1380.5 -338.2 L1388 -338.2 L1395.5 -311.1 L1403 -269.2 L1410.4 -231.4 L1417.9 -197.2 L1425.4 -166.1 L1432.9 -137.6 L1440.4 -111.5 L1447.9 -87.3 L1455.4 -64.9 L1462.9 -44.1 L1470.4 -24.7 L1477.9 -6.6 L1485.3 10.4 L1492.8 26.3 L1500.3 41.3 L1507.8 55.4 L1515.3 68.7 L1522.8 81.3 L1530.3 93.3 L1537.8 104.6 L1545.3 115.3 L1552.8 125.5 L1560.2 135.2 L1567.7 144.5 L1575.2 153.3 L1582.7 161.8 L1590.2 169.8 L1597.7 177.5 L1605.2 184.9 L1612.7 191.9 L1620.2 198.7 L1627.7 205.2 L1635.1 211.4 L1642.6 217.4 L1650.1 223.2 L1657.6 228.7 L1665.1 234 L1672.6 239.2 L1672.6 -369.6 L1298.1 -369.6 Z" fill="#55ff55"/>
<path d="M1298.1 -338.2 L1305.6 -338.2 L1313.1 -338.2 L1320.6 -338.2 L1328.1 -338.2 L1335.5 -338.2 L1343 -338.2 L1350.5 -338.2 L1358 -338.2 L1365.5 -338.2 L1373 -338.2 L1380.5 -338.2 L1388 -338.2 L1395.5 -311.1 L1403 -269.2 L1410.4 -231.4 L1417.9 -197.2 L1425.4 -166.1 L1432.9 -137.6 L1440.4 -111.5 L1447.9 -87.3 L1455.4 -64.9 L1462.9 -44.1 L1470.4 -24.7 L1477.9 -6.6 L1485.3 10.4 L1492.8 26.3 L1500.3 41.3 L1507.8 55.4 L1515.3 68.7 L1522.8 81.3 L1530.3 93.3 L1537.8 104.6 L1545.3 115.3 L1552.8 125.5 L1560.2 135.2 L1567.7 144.5 L1575.2 153.3 L1582.7 161.8 L1590.2 169.8 L1597.7 177.5 L1605.2 184.9 L1612.7 191.9 L1620.2 198.7 L1627.7 205.2 L1635.1 211.4 L1642.6 217.4 L1650.1 223.2 L1657.6 228.7 L1665.1 234 L1672.6 239.2" fill="none" stroke="#10bc10" stroke-width="1.5"/>
<path d="M1298.1 -338.2 L1305.6 -338.2 L1313.1 -338.2 L1320.6 -338.2 L1328.1 -338.2 L1335.5 -338.2 L1343 -338.2 L1350.5 -338.2 L1358 -338.2 L1365.5 -338.2 L1373 -338.2 L1380.5 -338.2 L1388 -338.2 L1395.5 -338.2 L1403 -338.2 L1410.4 -338.2 L1417.9 -329.8 L1425.4 -292.2 L1432.9 -257.9 L1440.4 -226.4 L1447.9 -197.5 L1455.4 -170.8 L1462.9 -146 L1470.4 -123 L1477.9 -101.5 L1485.3 -81.4 L1492.8 -62.6 L1500.3 -44.9 L1507.8 -28.3 L1515.3 -12.6 L1522.8 2.3 L1530.3 16.3 L1537.8 29.6 L1545.3 42.2 L1552.8 54.2 L1560.2 65.6 L1567.7 76.5 L1575.2 86.8 L1582.7 96.7 L1590.2 106.2 L1597.7 115.2 L1605.2 123.9 L1612.7 132.1 L1620.2 140.1 L1627.7 147.7 L1635.1 155 L1642.6 162 L1650.1 168.8 L1657.6 175.3 L1665.1 181.5 L1672.6 187.5 L1672.6 -369.6 L1298.1 -369.6 Z" fill="#00d400"/>
<path d="M1298.1 -338.2 L1305.6 -338.2 L1313.1 -338.2 L1320.6 -338.2 L1328.1 -338.2 L1335.5 -338.2 L1343 -338.2 L1350.5 -338.2 L1358 -338.2 L1365.5 -338.2 L1373 -338.2 L1380.5 -338.2 L1388 -338.2 L1395.5 -338.2 L1403 -338.2 L1410.4 -338.2 L1417.9 -329.8 L1425.4 -292.2 L1432.9 -257.9 L1440.4 -226.4 L1447.9 -197.5 L1455.4 -170.8 L1462.9 -146 L1470.4 -123 L1477.9 -101.5 L1485.3 -81.4 L1492.8 -62.6 L1500.3 -44.9 L1507.8 -28.3 L1515.3 -12.6 L1522.8 2.3 L1530.3 16.3 L1537.8 29.6 L1545.3 42.2 L1552.8 54.2 L1560.2 65.6 L1567.7 76.5 L1575.2 86.8 L1582.7 96.7 L1590.2 106.2 L1597.7 115.2 L1605.2 123.9 L1612.7 132.1 L1620.2 140.1 L1627.7 147.7 L1635.1 155 L1642.6 162 L1650.1 168.8 L1657.6 175.3 L1665.1 181.5 L1672.6 187.5" fill="none" stroke="#009800" stroke-width="1.5"/>
<path d="M1298.1 -338.2 L1305.6 -338.2 L1313.1 -338.2 L1320.6 -338.2 L1328.1 -338.2 L1335.5 -338.2 L1343 -338.2 L1350.5 -338.2 L1358 -338.2 L1365.5 -338.2 L1373 -338.2 L1380.5 -338.2 L1388 -338.2 L1395.5 -338.2 L1403 -338.2 L1410.4 -338.2 L1417.9 -338.2 L1425.4 -338.2 L1432.9 -338.2 L1440.4 -338.2 L1447.9 -310.7 L1455.4 -279.3 L1462.9 -250.3 L1470.4 -223.4 L1477.9 -198.3 L1485.3 -174.9 L1492.8 -153 L1500.3 -132.5 L1507.8 -113.2 L1515.3 -95 L1522.8 -77.9 L1530.3 -61.6 L1537.8 -46.3 L1545.3 -31.7 L1552.8 -17.9 L1560.2 -4.7 L1567.7 7.8 L1575.2 19.7 L1582.7 31.1 L1590.2 42 L1597.7 52.4 L1605.2 62.3 L1612.7 71.9 L1620.2 81 L1627.7 89.8 L1635.1 98.2 L1642.6 106.3 L1650.1 114 L1657.6 121.5 L1665.1 128.7 L1672.6 135.6 L1672.6 -369.6 L1298.1 -369.6 Z" fill="#009a00"/>
<path d="M1298.1 -338.2 L1305.6 -338.2 L1313.1 -338.2 L1320.6 -338.2 L1328.1 -338.2 L1335.5 -338.2 L1343 -338.2 L1350.5 -338.2 L1358 -338.2 L1365.5 -338.2 L1373 -338.2 L1380.5 -338.2 L1388 -338.2 L1395.5 -338.2 L1403 -338.2 L1410.4 -338.2 L1417.9 -338.2 L1425.4 -338.2 L1432.9 -338.2 L1440.4 -338.2 L1447.9 -310.7 L1455.4 -279.3 L1462.9 -250.3 L1470.4 -223.4 L1477.9 -198.3 L1485.3 -174.9 L1492.8 -153 L1500.3 -132.5 L1507.8 -113.2 L1515.3 -95 L1522.8 -77.9 L1530.3 -61.6 L1537.8 -46.3 L1545.3 -31.7 L1552.8 -17.9 L1560.2 -4.7 L1567.7 7.8 L1575.2 19.7 L1582.7 31.1 L1590.2 42 L1597.7 52.4 L1605.2 62.3 L1612.7 71.9 L1620.2 81 L1627.7 89.8 L1635.1 98.2 L1642.6 106.3 L1650.1 114 L1657.6 121.5 L1665.1 128.7 L1672.6 135.6" fill="none" stroke="#006800" stroke-width="1.5"/>
<path d="M1298.1 -338.2 L1305.6 -338.2 L1313.1 -338.2 L1320.6 -338.2 L1328.1 -338.2 L1335.5 -338.2 L1343 -338.2 L1350.5 -338.2 L1358 -338.2 L1365.5 -338.2 L1373 -338.2 L1380.5 -338.2 L1388 -338.2 L1395.5 -338.2 L1403 -338.2 L1410.4 -338.2 L1417.9 -338.2 L1425.4 -338.2 L1432.9 -338.2 L1440.4 -338.2 L1447.9 -338.2 L1455.4 -338.2 L1462.9 -338.2 L1470.4 -326 L1477.9 -297.2 L1485.3 -270.3 L1492.8 -245.1 L1500.3 -221.6 L1507.8 -199.5 L1515.3 -178.7 L1522.8 -159.2 L1530.3 -140.7 L1537.8 -123.1 L1545.3 -106.6 L1552.8 -90.8 L1560.2 -75.9 L1567.7 -61.6 L1575.2 -48.1 L1582.7 -35.1 L1590.2 -22.8 L1597.7 -11 L1605.2 0.3 L1612.7 11.1 L1620.2 21.5 L1627.7 31.4 L1635.1 40.9 L1642.6 50.1 L1650.1 58.9 L1657.6 67.4 L1665.1 75.6 L1672.6 83.4 L1672.6 -369.6 L1298.1 -369.6 Z" fill="#006c00"/>
<path d="M1298.1 -338.2 L1305.6 -338.2 L1313.1 -338.2 L1320.6 -338.2 L1328.1 -338.2 L1335.5 -338.2 L1343 -338.2 L1350.5 -338.2 L1358 -338.2 L1365.5 -338.2 L1373 -338.2 L1380.5 -338.2 L1388 -338.2 L1395.5 -338.2 L1403 -338.2 L1410.4 -338.2 L1417.9 -338.2 L1425.4 -338.2 L1432.9 -338.2 L1440.4 -338.2 L1447.9 -338.2 L1455.4 -338.2 L1462.9 -338.2 L1470.4 -326 L1477.9 -297.2 L1485.3 -270.3 L1492.8 -245.1 L1500.3 -221.6 L1507.8 -199.5 L1515.3 -178.7 L1522.8 -159.2 L1530.3 -140.7 L1537.8 -123.1 L1545.3 -106.6 L1552.8 -90.8 L1560.2 -75.9 L1567.7 -61.6 L1575.2 -48.1 L1582.7 -35.1 L1590.2 -22.8 L1597.7 -11 L1605.2 0.3 L1612.7 11.1 L1620.2 21.5 L1627.7 31.4 L1635.1 40.9 L1642.6 50.1 L1650.1 58.9 L1657.6 67.4 L1665.1 75.6 L1672.6 83.4" fill="none" stroke="#004400" stroke-width="1.5"/>
<path d="M1298.1 -338.2 L1305.6 -338.2 L1313.1 -338.2 L1320.6 -338.2 L1328.1 -338.2 L1335.5 -338.2 L1343 -338.2 L1350.5 -338.2 L1358 -338.2 L1365.5 -338.2 L1373 -338.2 L1380.5 -338.2 L1388 -338.2 L1395.5 -338.2 L1403 -338.2 L1410.4 -338.2 L1417.9 -338.2 L1425.4 -338.2 L1432.9 -338.2 L1440.4 -338.2 L1447.9 -338.2 L1455.4 -338.2 L1462.9 -338.2 L1470.4 -338.2 L1477.9 -338.2 L1485.3 -338.2 L1492.8 -338.2 L1500.3 -312.3 L1507.8 -287.3 L1515.3 -263.8 L1522.8 -241.6 L1530.3 -220.7 L1537.8 -201 L1545.3 -182.3 L1552.8 -164.6 L1560.2 -147.8 L1567.7 -131.8 L1575.2 -116.5 L1582.7 -102 L1590.2 -88.2 L1597.7 -74.9 L1605.2 -62.3 L1612.7 -50.1 L1620.2 -38.5 L1627.7 -27.4 L1635.1 -16.7 L1642.6 -6.4 L1650.1 3.4 L1657.6 12.9 L1665.1 22.1 L1672.6 30.9 L1672.6 -369.6 L1298.1 -369.6 Z" fill="#004200"/>
<path d="M1298.1 -338.2 L1305.6 -338.2 L1313.1 -338.2 L1320.6 -338.2 L1328.1 -338.2 L1335.5 -338.2 L1343 -338.2 L1350.5 -338.2 L1358 -338.2 L1365.5 -338.2 L1373 -338.2 L1380.5 -338.2 L1388 -338.2 L1395.5 -338.2 L1403 -338.2 L1410.4 -338.2 L1417.9 -338.2 L1425.4 -338.2 L1432.9 -338.2 L1440.4 -338.2 L1447.9 -338.2 L1455.4 -338.2 L1462.9 -338.2 L1470.4 -338.2 L1477.9 -338.2 L1485.3 -338.2 L1492.8 -338.2 L1500.3 -312.3 L1507.8 -287.3 L1515.3 -263.8 L1522.8 -241.6 L1530.3 -220.7 L1537.8 -201 L1545.3 -182.3 L1552.8 -164.6 L1560.2 -147.8 L1567.7 -131.8 L1575.2 -116.5 L1582.7 -102 L1590.2 -88.2 L1597.7 -74.9 L1605.2 -62.3 L1612.7 -50.1 L1620.2 -38.5 L1627.7 -27.4 L1635.1 -16.7 L1642.6 -6.4 L1650.1 3.4 L1657.6 12.9 L1665.1 22.1 L1672.6 30.9" fill="none" stroke="#002a00" stroke-width="1.5"/>
</g>
<path d="M1671.8 30.4 L1671.8 398.2 L1298.1 398.2" fill="none" stroke="#fff" stroke-width="1.6" opacity="0.28"/>
<path d="M1298.1 30.9 L1672.6 30.9" fill="none" stroke="#fff" stroke-width="1" opacity="0.3"/>
<path d="M1292.1 29.9 L1672.6 29.9" fill="none" stroke="#999" stroke-width="1" opacity="0.8"/>
<path d="M1298.1 398.8 L1672.6 398.8" fill="none" stroke="#2828a8" stroke-width="1.4" opacity="0.55"/>
<line x1="1298.1" y1="399" x2="1298.1" y2="405" stroke="#6a6a6a" stroke-width="1.4"/>
<text x="1298.1" y="422.5" font-size="17.5" text-anchor="middle" font-weight="bold">50</text>
<line x1="1391.7" y1="399" x2="1391.7" y2="405" stroke="#6a6a6a" stroke-width="1.4"/>
<text x="1391.7" y="422.5" font-size="17.5" text-anchor="middle" font-weight="bold">75</text>
<line x1="1485.3" y1="399" x2="1485.3" y2="405" stroke="#6a6a6a" stroke-width="1.4"/>
<text x="1485.3" y="422.5" font-size="17.5" text-anchor="middle" font-weight="bold">100</text>
<line x1="1579" y1="399" x2="1579" y2="405" stroke="#6a6a6a" stroke-width="1.4"/>
<text x="1579" y="422.5" font-size="17.5" text-anchor="middle" font-weight="bold">125</text>
<line x1="1672.6" y1="399" x2="1672.6" y2="405" stroke="#6a6a6a" stroke-width="1.4"/>
<text x="1672.6" y="422.5" font-size="17.5" text-anchor="middle" font-weight="bold">150</text>
<line x1="1292.1" y1="399" x2="1298.1" y2="399" stroke="#6a6a6a" stroke-width="1.4"/>
<text x="1289.4" y="404.8" font-size="17.5" text-anchor="end" font-weight="bold">150</text>
<line x1="1292.1" y1="306.9" x2="1298.1" y2="306.9" stroke="#6a6a6a" stroke-width="1.4"/>
<text x="1289.4" y="312.6" font-size="17.5" text-anchor="end" font-weight="bold">175</text>
<line x1="1292.1" y1="214.7" x2="1298.1" y2="214.7" stroke="#6a6a6a" stroke-width="1.4"/>
<text x="1289.4" y="220.5" font-size="17.5" text-anchor="end" font-weight="bold">200</text>
<line x1="1292.1" y1="122.5" x2="1298.1" y2="122.5" stroke="#6a6a6a" stroke-width="1.4"/>
<text x="1289.4" y="128.3" font-size="17.5" text-anchor="end" font-weight="bold">225</text>
<line x1="1292.1" y1="30.4" x2="1298.1" y2="30.4" stroke="#6a6a6a" stroke-width="1.4"/>
<text x="1289.4" y="36.2" font-size="17.5" text-anchor="end" font-weight="bold">250</text>
<text x="1485" y="445.3" font-size="17.6" text-anchor="middle" font-weight="bold">Cutting Speed (m/min)</text>
<text x="1247.3" y="214.4" font-size="17.8" text-anchor="middle" font-weight="bold" transform="rotate(-90 1247.3 214.4)">Feed Velocity (mm/min)</text>
<rect x="1679.6" y="31.7" width="177" height="263.5" rx="1.2" fill="#fff" stroke="#999" stroke-width="1.7"/>
<text x="1768" y="48" font-size="14.2" text-anchor="middle" font-weight="bold">Material Removal</text>
<text x="1768" y="66" font-size="14.2" text-anchor="middle" font-weight="bold">Rate (mm<tspan font-size="12.5" dy="-7">3</tspan><tspan dy="7">/sec)</tspan></text>
<rect x="1685.2" y="74.1" width="17" height="14" fill="#000080"/>
<text x="1767" y="85.8" font-size="14.2" text-anchor="middle" font-weight="bold">&lt;</text>
<text x="1825" y="85.8" font-size="14.2" text-anchor="end" font-weight="bold">4.1947</text>
<rect x="1685.2" y="92.5" width="17" height="14" fill="#0000c0"/>
<text x="1756" y="104.2" font-size="14.2" text-anchor="end" font-weight="bold">4.1947</text>
<text x="1767" y="104.2" font-size="14.2" text-anchor="middle" font-weight="bold">–</text>
<text x="1825" y="104.2" font-size="14.2" text-anchor="end" font-weight="bold">7.1241</text>
<rect x="1685.2" y="111" width="17" height="14" fill="#0000ff"/>
<text x="1756" y="122.7" font-size="14.2" text-anchor="end" font-weight="bold">7.1241</text>
<text x="1767" y="122.7" font-size="14.2" text-anchor="middle" font-weight="bold">–</text>
<text x="1825" y="122.7" font-size="14.2" text-anchor="end" font-weight="bold">10.0535</text>
<rect x="1685.2" y="129.4" width="17" height="14" fill="#6a6aff"/>
<text x="1756" y="141.1" font-size="14.2" text-anchor="end" font-weight="bold">10.0535</text>
<text x="1767" y="141.1" font-size="14.2" text-anchor="middle" font-weight="bold">–</text>
<text x="1825" y="141.1" font-size="14.2" text-anchor="end" font-weight="bold">12.9829</text>
<rect x="1685.2" y="147.9" width="17" height="14" fill="#aaaaff"/>
<text x="1756" y="159.6" font-size="14.2" text-anchor="end" font-weight="bold">12.9829</text>
<text x="1767" y="159.6" font-size="14.2" text-anchor="middle" font-weight="bold">–</text>
<text x="1825" y="159.6" font-size="14.2" text-anchor="end" font-weight="bold">15.9123</text>
<rect x="1685.2" y="166.3" width="17" height="14" fill="#e6e6ff"/>
<text x="1756" y="178" font-size="14.2" text-anchor="end" font-weight="bold">15.9123</text>
<text x="1767" y="178" font-size="14.2" text-anchor="middle" font-weight="bold">–</text>
<text x="1825" y="178" font-size="14.2" text-anchor="end" font-weight="bold">18.8417</text>
<rect x="1685.2" y="184.8" width="17" height="14" fill="#d5ffd5"/>
<text x="1756" y="196.5" font-size="14.2" text-anchor="end" font-weight="bold">18.8417</text>
<text x="1767" y="196.5" font-size="14.2" text-anchor="middle" font-weight="bold">–</text>
<text x="1825" y="196.5" font-size="14.2" text-anchor="end" font-weight="bold">21.7711</text>
<rect x="1685.2" y="203.2" width="17" height="14" fill="#55ff55"/>
<text x="1756" y="214.9" font-size="14.2" text-anchor="end" font-weight="bold">21.7711</text>
<text x="1767" y="214.9" font-size="14.2" text-anchor="middle" font-weight="bold">–</text>
<text x="1825" y="214.9" font-size="14.2" text-anchor="end" font-weight="bold">24.7005</text>
<rect x="1685.2" y="221.7" width="17" height="14" fill="#00d400"/>
<text x="1756" y="233.4" font-size="14.2" text-anchor="end" font-weight="bold">24.7005</text>
<text x="1767" y="233.4" font-size="14.2" text-anchor="middle" font-weight="bold">–</text>
<text x="1825" y="233.4" font-size="14.2" text-anchor="end" font-weight="bold">27.6299</text>
<rect x="1685.2" y="240.1" width="17" height="14" fill="#009a00"/>
<text x="1756" y="251.8" font-size="14.2" text-anchor="end" font-weight="bold">27.6299</text>
<text x="1767" y="251.8" font-size="14.2" text-anchor="middle" font-weight="bold">–</text>
<text x="1825" y="251.8" font-size="14.2" text-anchor="end" font-weight="bold">30.5593</text>
<rect x="1685.2" y="258.6" width="17" height="14" fill="#006c00"/>
<text x="1756" y="270.3" font-size="14.2" text-anchor="end" font-weight="bold">30.5593</text>
<text x="1767" y="270.3" font-size="14.2" text-anchor="middle" font-weight="bold">–</text>
<text x="1825" y="270.3" font-size="14.2" text-anchor="end" font-weight="bold">33.4887</text>
<rect x="1685.2" y="277" width="17" height="14" fill="#004200"/>
<text x="1767" y="288.7" font-size="14.2" text-anchor="middle" font-weight="bold">&gt;</text>
<text x="1825" y="288.7" font-size="14.2" text-anchor="end" font-weight="bold">33.4887</text>
<rect x="1679.3" y="301.6" width="175.9" height="42.9" rx="1.2" fill="#fff" stroke="#999" stroke-width="1.7"/>
<text x="1767.5" y="317.8" font-size="14.1" text-anchor="middle" font-weight="bold">Hold Values</text>
<text x="1767.5" y="336.2" font-size="14.1" text-anchor="middle" font-weight="bold" xml:space="preserve">Depth of Cut (mm)  1</text>
<path d="M124.1 593.5 L216.7 493.6 M216.7 493.6 L433.9 530.8 M216.7 493.6 L219.5 650.1 M433.9 530.8 L437.5 687.5 M124.1 593.5 L126.7 749.9 M126.7 749.9 L344.7 787.3 M344.7 787.3 L437.5 687.5 M219.5 650.1 L437.5 687.5 M219.5 650.1 L126.7 749.9" fill="none" stroke="#4a4a4a" stroke-width="1.2"/>
<text transform="translate(97 606.9) scale(1 1.2)" x="0" y="4.3" font-size="13" text-anchor="end" font-weight="bold">60</text>
<text transform="translate(97 659.4) scale(1 1.2)" x="0" y="4.3" font-size="13" text-anchor="end" font-weight="bold">40</text>
<text transform="translate(97 712) scale(1 1.2)" x="0" y="4.3" font-size="13" text-anchor="end" font-weight="bold">20</text>
<text transform="translate(119.9 773.2) scale(1 1.2)" x="0" y="4.3" font-size="13" text-anchor="middle" font-weight="bold">50</text>
<text transform="translate(217.2 789.6) scale(1 1.2)" x="0" y="4.3" font-size="13" text-anchor="middle" font-weight="bold">100</text>
<text transform="translate(314.5 806.5) scale(1 1.2)" x="0" y="4.3" font-size="13" text-anchor="middle" font-weight="bold">150</text>
<text transform="translate(385.4 790.6) scale(1 1.2)" x="0" y="4.3" font-size="13" text-anchor="middle" font-weight="bold">150</text>
<text transform="translate(426.5 746.2) scale(1 1.2)" x="0" y="4.3" font-size="13" text-anchor="middle" font-weight="bold">200</text>
<text transform="translate(468.1 701.2) scale(1 1.2)" x="0" y="4.3" font-size="13" text-anchor="middle" font-weight="bold">250</text>
<path d="M119.4 610.4 L124.4 609.6 M120.2 662.9 L125.2 662.1 M121.1 715.5 L126.1 714.7 M136.5 751.6 L133.5 755.6 M233.5 768.2 L230.5 772.2 M330.5 784.9 L327.5 788.9 M349.3 782.3 L356.3 783.8 M391.1 737.4 L398.1 738.9 M433.3 692 L440.3 693.5" fill="none" stroke="#4a4a4a" stroke-width="1"/>
<polygon points="143.6,738.4 337.1,713 418.4,542.3 225.8,611.5" fill="#ff0000" stroke="#1400a0" stroke-width="1.2" stroke-linejoin="round"/>
<path d="M157.4 736.6 L239.6 606.6 M149.5 729.3 L342.9 700.8 M171.2 734.8 L253.3 601.6 M155.3 720.3 L348.7 688.6 M185.1 733 L267.1 596.7 M161.2 711.2 L354.5 676.4 M198.9 731.1 L280.8 591.7 M167.1 702.1 L360.3 664.2 M212.7 729.3 L294.6 586.8 M173 693.1 L366.1 652 M226.5 727.5 L308.3 581.8 M178.8 684 L371.9 639.8 M240.4 725.7 L322.1 576.9 M184.7 675 L377.8 627.6 M254.2 723.9 L335.9 572 M190.6 665.9 L383.6 615.5 M268 722.1 L349.6 567 M196.4 656.8 L389.4 603.3 M281.8 720.3 L363.4 562.1 M202.3 647.8 L395.2 591.1 M295.6 718.4 L377.1 557.1 M208.2 638.7 L401 578.9 M309.5 716.6 L390.9 552.2 M214.1 629.6 L406.8 566.7 M323.3 714.8 L404.6 547.2 M219.9 620.6 L412.6 554.5" fill="none" stroke="#1400a0" stroke-width="2"/>
<text x="142.6" y="827.5" font-size="13.7" text-anchor="start" font-weight="bold">Cutting Speed (m/min)</text>
<text x="447.5" y="764.5" font-size="13.7" text-anchor="start" font-weight="bold">Feed Velocity (mm/min)</text>
<text x="62.5" y="686" font-size="14.3" text-anchor="middle" font-weight="bold" transform="rotate(-90 62.5 686)">Material Removal Rate (mm<tspan font-size="8.6" dy="-5.7">3</tspan><tspan dy="5.7">/sec)</tspan></text>
<rect x="441.5" y="530.8" width="190.9" height="56.2" rx="1.2" fill="#fff" stroke="#555" stroke-width="1.5"/>
<text x="536.3" y="555" font-size="16.7" text-anchor="middle" font-weight="bold">Hold Values</text>
<text x="536.3" y="579.5" font-size="16.7" text-anchor="middle" font-weight="bold" xml:space="preserve">Depth of Cut (mm)  2</text>
<path d="M711.4 589.3 L801.9 490.2 M801.9 490.2 L1016 525.5 M801.9 490.2 L804.4 642.4 M1016 525.5 L1018.7 679.8 M711.4 589.3 L714.7 740.6 M714.7 740.6 L929 778 M929 778 L1018.7 679.8 M804.4 642.4 L1018.7 679.8 M804.4 642.4 L714.7 740.6" fill="none" stroke="#4a4a4a" stroke-width="1.2"/>
<text transform="translate(684.5 587.1) scale(1 1.2)" x="0" y="4.4" font-size="13.3" text-anchor="end" font-weight="normal" stroke="#222" stroke-width="0.4">55</text>
<text transform="translate(684.5 634.3) scale(1 1.2)" x="0" y="4.4" font-size="13.3" text-anchor="end" font-weight="normal" stroke="#222" stroke-width="0.4">40</text>
<text transform="translate(684.5 681.3) scale(1 1.2)" x="0" y="4.4" font-size="13.3" text-anchor="end" font-weight="normal" stroke="#222" stroke-width="0.4">25</text>
<text transform="translate(684.5 727.6) scale(1 1.2)" x="0" y="4.4" font-size="13.3" text-anchor="end" font-weight="normal" stroke="#222" stroke-width="0.4">10</text>
<text transform="translate(708 764.4) scale(1 1.2)" x="0" y="4.4" font-size="13.3" text-anchor="middle" font-weight="normal" stroke="#222" stroke-width="0.4">50</text>
<text transform="translate(801.8 780.2) scale(1 1.2)" x="0" y="4.4" font-size="13.3" text-anchor="middle" font-weight="normal" stroke="#222" stroke-width="0.4">100</text>
<text transform="translate(897.4 796.9) scale(1 1.2)" x="0" y="4.4" font-size="13.3" text-anchor="middle" font-weight="normal" stroke="#222" stroke-width="0.4">150</text>
<text transform="translate(967.3 780.3) scale(1 1.2)" x="0" y="4.4" font-size="13.3" text-anchor="middle" font-weight="normal" stroke="#222" stroke-width="0.4">150</text>
<text transform="translate(1007.9 737.5) scale(1 1.2)" x="0" y="4.4" font-size="13.3" text-anchor="middle" font-weight="normal" stroke="#222" stroke-width="0.4">200</text>
<text transform="translate(1047.6 693.3) scale(1 1.2)" x="0" y="4.4" font-size="13.3" text-anchor="middle" font-weight="normal" stroke="#222" stroke-width="0.4">250</text>
<path d="M706.4 590.6 L711.4 589.8 M707.4 637.8 L712.4 637 M708.5 684.8 L713.5 684 M709.5 731.1 L714.5 730.3 M724.3 742.3 L721.3 746.3 M819.7 758.9 L816.7 762.9 M915.1 775.6 L912.1 779.6 M933.5 773.1 L940.5 774.6 M973.9 728.9 L980.9 730.4 M1014.7 684.2 L1021.7 685.7" fill="none" stroke="#4a4a4a" stroke-width="1"/>
<polygon points="729.8,730.2 920.1,714.4 999.8,544.4 811.7,613.6" fill="#1410c0" stroke="#ff0010" stroke-width="1.6" stroke-linejoin="round"/>
<path d="M743.4 729.1 L825.1 608.7 M735.6 721.9 L925.8 702.3 M757 727.9 L838.6 603.7 M741.5 713.5 L931.5 690.1 M770.6 726.8 L852 598.8 M747.4 705.2 L937.2 678 M784.2 725.7 L865.4 593.8 M753.2 696.9 L942.9 665.8 M797.8 724.6 L878.9 588.9 M759 688.6 L948.6 653.7 M811.4 723.4 L892.3 583.9 M764.9 680.2 L954.3 641.5 M825 722.3 L905.8 579 M770.8 671.9 L960 629.4 M838.5 721.2 L919.2 574.1 M776.6 663.6 L965.6 617.3 M852.1 720 L932.6 569.1 M782.5 655.2 L971.3 605.1 M865.7 718.9 L946.1 564.2 M788.3 646.9 L977 593 M879.3 717.8 L959.5 559.2 M794.1 638.6 L982.7 580.8 M892.9 716.7 L972.9 554.3 M800 630.3 L988.4 568.7 M906.5 715.5 L986.4 549.3 M805.9 621.9 L994.1 556.5" fill="none" stroke="#ff0010" stroke-width="2.7"/>
<text x="731.9" y="823" font-size="14" text-anchor="start" font-weight="bold">Cutting Speed (m/min)</text>
<text x="1026.9" y="763" font-size="14" text-anchor="start" font-weight="bold">Feed Velocity (mm/min)</text>
<text x="653.5" y="663" font-size="15.3" text-anchor="middle" font-weight="bold" transform="rotate(-90 653.5 663)">Material Removal Rate (mm<tspan font-size="9.2" dy="-6.1">3</tspan><tspan dy="6.1">/sec)</tspan></text>
<rect x="1026.9" y="531.8" width="205.6" height="56.4" rx="1.2" fill="#fff" stroke="#555" stroke-width="1.5"/>
<text x="1128.8" y="556.5" font-size="16" text-anchor="middle" font-weight="normal" stroke="#222" stroke-width="0.4">Hold Values</text>
<text x="1119.8" y="580.8" font-size="16" text-anchor="middle" font-weight="normal" xml:space="preserve" stroke="#222" stroke-width="0.4">Depth of Cut (mm)  1.5</text>
<path d="M1329.5 577.4 L1425.1 476 M1425.1 476 L1648.2 513.8 M1425.1 476 L1427.6 634.9 M1648.2 513.8 L1651.4 674.6 M1329.5 577.4 L1332.6 739.3 M1332.6 739.3 L1556.4 779 M1556.4 779 L1651.4 674.6 M1427.6 634.9 L1651.4 674.6 M1427.6 634.9 L1332.6 739.3" fill="none" stroke="#4a4a4a" stroke-width="1.2"/>
<text transform="translate(1305 598.1) scale(1 1.2)" x="0" y="4.3" font-size="13" text-anchor="end" font-weight="bold">30</text>
<text transform="translate(1305 643.2) scale(1 1.2)" x="0" y="4.3" font-size="13" text-anchor="end" font-weight="bold">20</text>
<text transform="translate(1305 688.3) scale(1 1.2)" x="0" y="4.3" font-size="13" text-anchor="end" font-weight="bold">10</text>
<text transform="translate(1305 732.1) scale(1 1.2)" x="0" y="4.3" font-size="13" text-anchor="end" font-weight="bold">0</text>
<text transform="translate(1325 763.1) scale(1 1.2)" x="0" y="4.3" font-size="13" text-anchor="middle" font-weight="bold">50</text>
<text transform="translate(1425.1 780.2) scale(1 1.2)" x="0" y="4.3" font-size="13" text-anchor="middle" font-weight="bold">100</text>
<text transform="translate(1525.7 798.3) scale(1 1.2)" x="0" y="4.3" font-size="13" text-anchor="middle" font-weight="bold">150</text>
<text transform="translate(1598.8 781.2) scale(1 1.2)" x="0" y="4.3" font-size="13" text-anchor="middle" font-weight="bold">150</text>
<text transform="translate(1640.7 736.1) scale(1 1.2)" x="0" y="4.3" font-size="13" text-anchor="middle" font-weight="bold">200</text>
<text transform="translate(1683.6 688.8) scale(1 1.2)" x="0" y="4.3" font-size="13" text-anchor="middle" font-weight="bold">250</text>
<path d="M1324.9 601.6 L1329.9 600.8 M1325.8 646.7 L1330.8 645.9 M1326.7 691.8 L1331.7 691 M1327.5 735.6 L1332.5 734.8 M1342.7 741.1 L1339.7 745.1 M1442.3 758.8 L1439.3 762.8 M1541.9 776.4 L1538.9 780.4 M1561.2 773.8 L1568.2 775.3 M1603.9 726.8 L1610.9 728.3 M1647.1 679.3 L1654.1 680.8" fill="none" stroke="#4a4a4a" stroke-width="1"/>
<polygon points="1349.2,715 1549.8,711.8 1631.7,525 1433.2,604" fill="#ffff00" stroke="#ff2800" stroke-width="1.2" stroke-linejoin="round"/>
<path d="M1363.5 714.8 L1447.4 598.4 M1355.2 707.1 L1555.6 698.5 M1377.9 714.5 L1461.6 592.7 M1361.2 699.1 L1561.5 685.1 M1392.2 714.3 L1475.7 587.1 M1367.2 691.2 L1567.3 671.8 M1406.5 714.1 L1489.9 581.4 M1373.2 683.3 L1573.2 658.4 M1420.8 713.9 L1504.1 575.8 M1379.2 675.4 L1579 645.1 M1435.2 713.6 L1518.3 570.1 M1385.2 667.4 L1584.9 631.7 M1449.5 713.4 L1532.5 564.5 M1391.2 659.5 L1590.8 618.4 M1463.8 713.2 L1546.6 558.9 M1397.2 651.6 L1596.6 605.1 M1478.2 712.9 L1560.8 553.2 M1403.2 643.6 L1602.5 591.7 M1492.5 712.7 L1575 547.6 M1409.2 635.7 L1608.3 578.4 M1506.8 712.5 L1589.2 541.9 M1415.2 627.8 L1614.2 565 M1521.1 712.3 L1603.3 536.3 M1421.2 619.9 L1620 551.7 M1535.5 712 L1617.5 530.6 M1427.2 611.9 L1625.9 538.3" fill="none" stroke="#ff2800" stroke-width="1.6"/>
<text x="1348.9" y="812.5" font-size="13.7" text-anchor="start" font-weight="bold">Cutting Speed (m/min)</text>
<text x="1657.4" y="760.7" font-size="13.7" text-anchor="start" font-weight="bold">Feed Velocity (mm/min)</text>
<text x="1276.5" y="674" font-size="14.4" text-anchor="middle" font-weight="bold" transform="rotate(-90 1276.5 674)">Material Removal Rate (mm<tspan font-size="8.6" dy="-5.8">3</tspan><tspan dy="5.8">/sec)</tspan></text>
<rect x="1655.2" y="514.2" width="177.2" height="57.7" rx="1.2" fill="#fff" stroke="#555" stroke-width="1.5"/>
<text x="1743.6" y="539.3" font-size="16.7" text-anchor="middle" font-weight="bold">Hold Values</text>
<text x="1743.6" y="563.7" font-size="16.7" text-anchor="middle" font-weight="bold" xml:space="preserve">Depth of Cut (mm)  1</text>
</g>
</svg>
</body>
</html>
